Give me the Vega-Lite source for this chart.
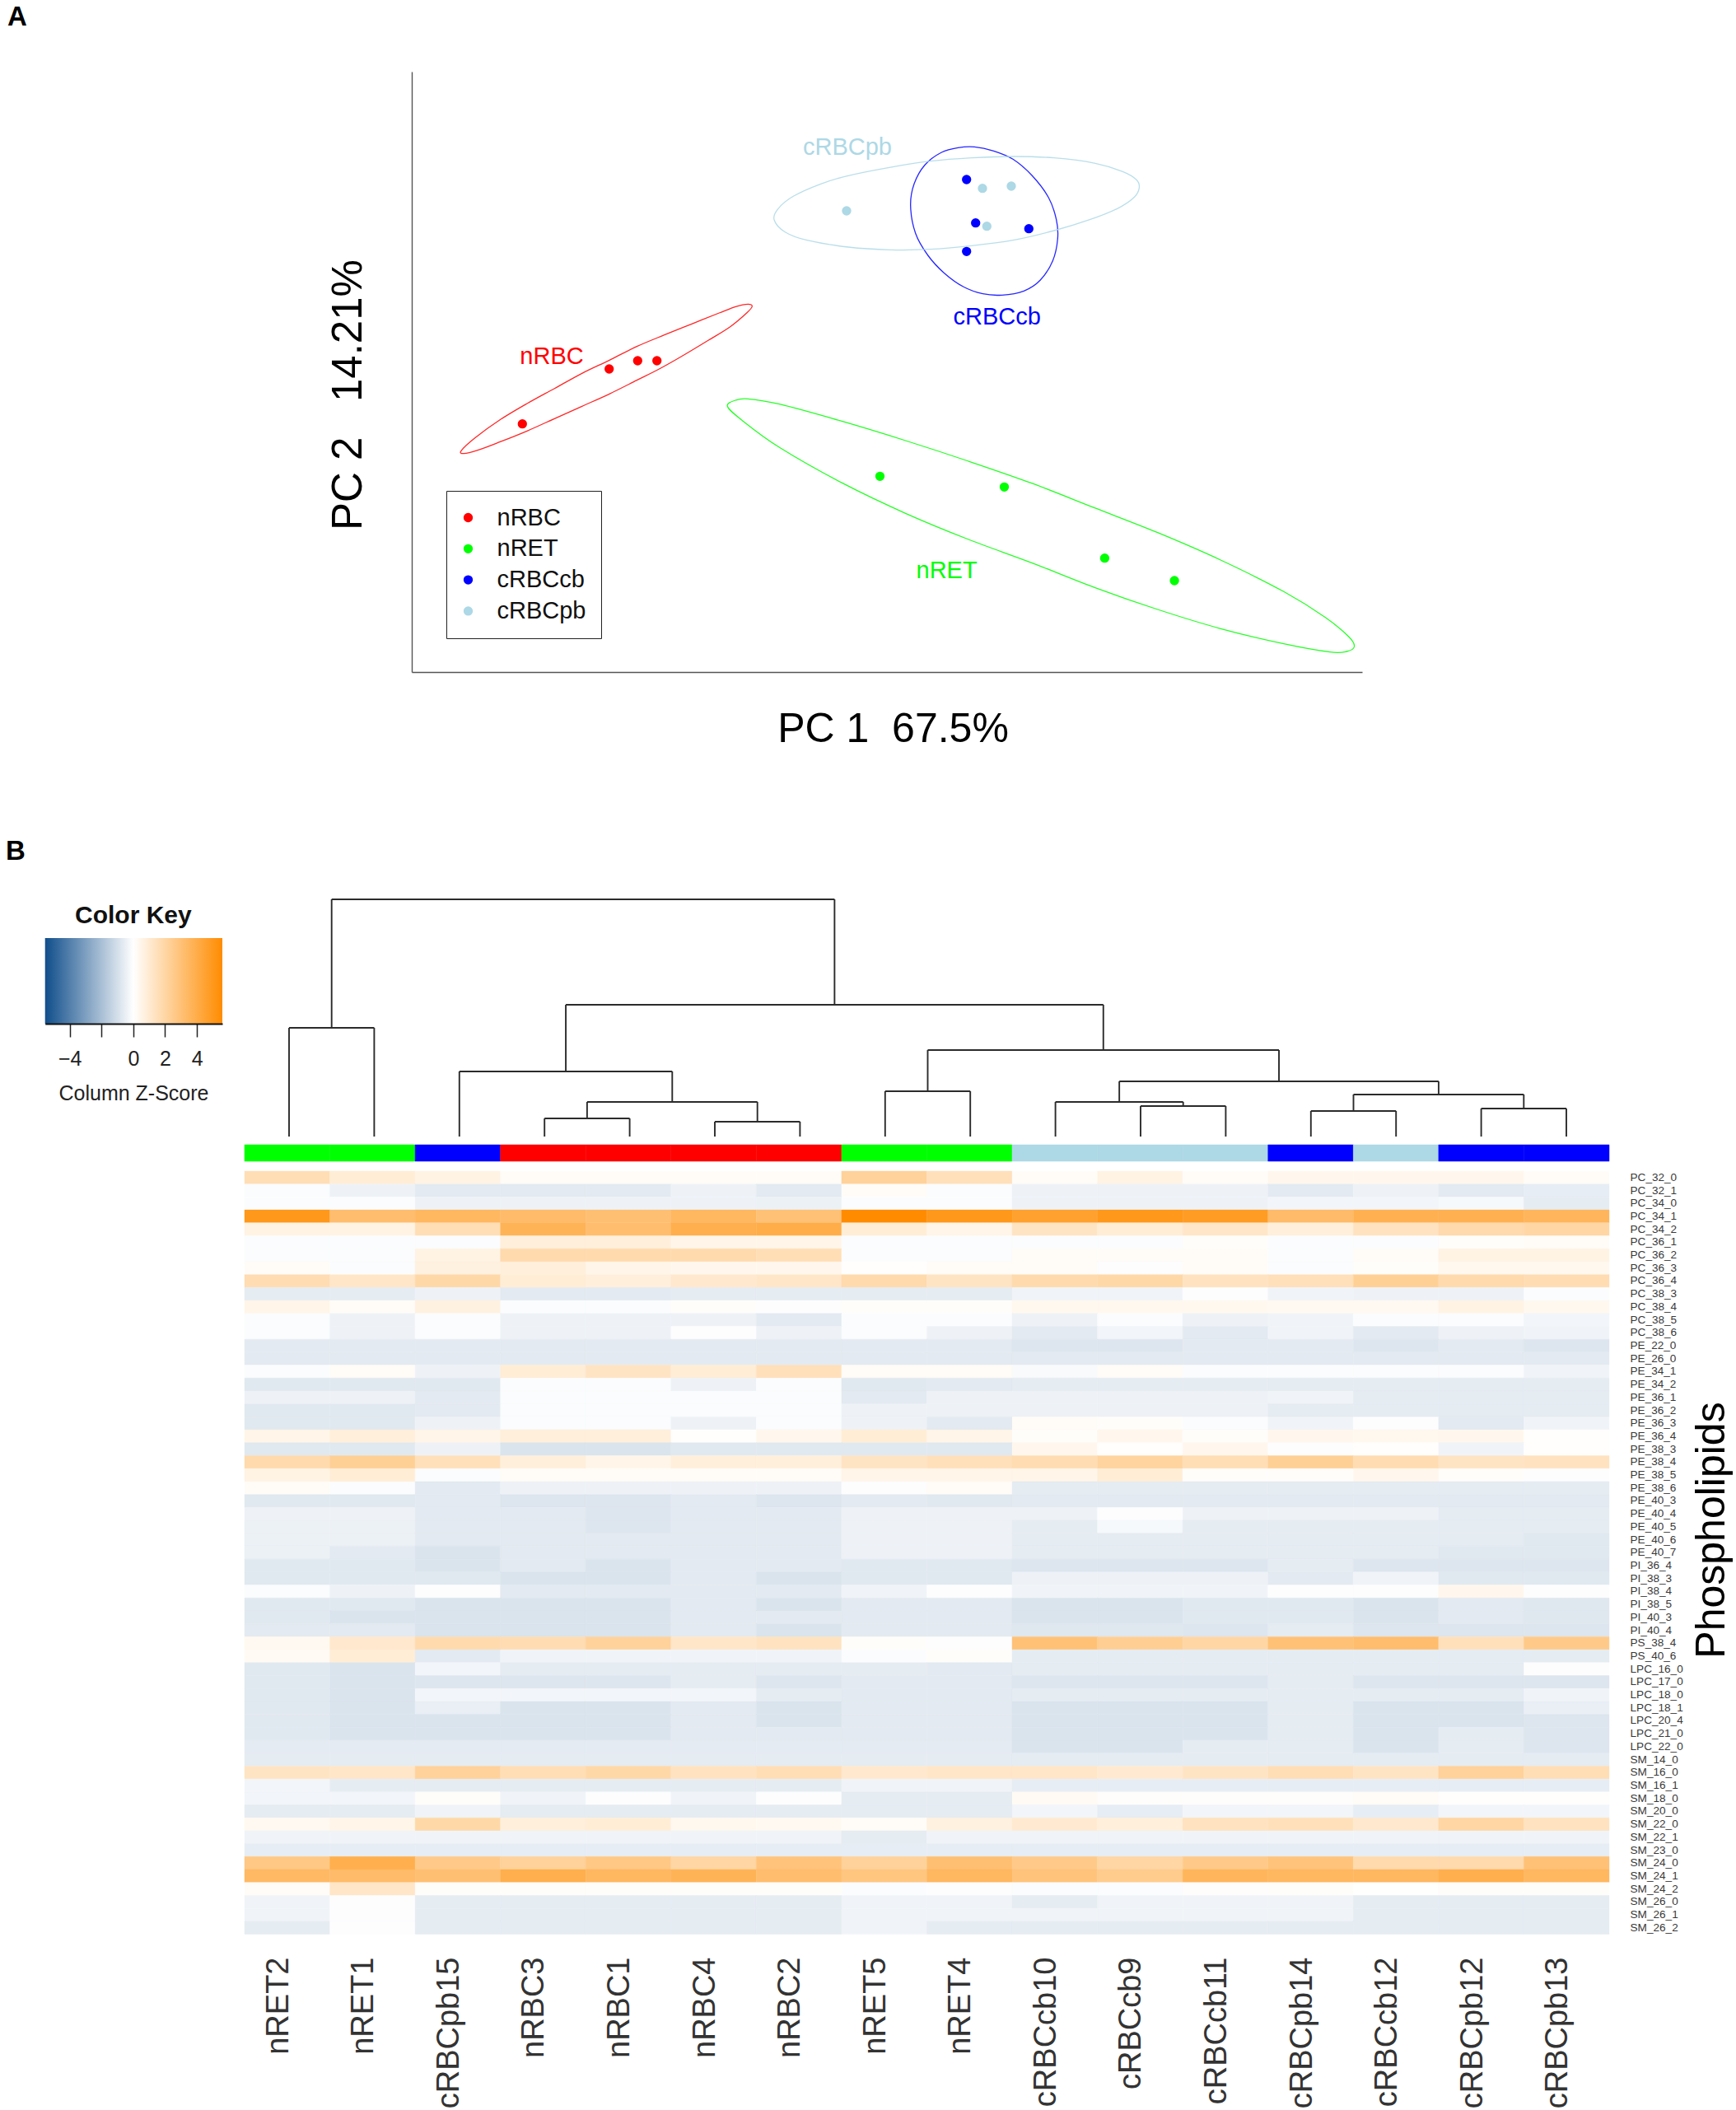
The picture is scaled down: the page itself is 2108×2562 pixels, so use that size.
{"$schema":"https://vega.github.io/schema/vega-lite/v6.json","width":2108,"height":2562,"autosize":"none","padding":0,"background":"white",
"config":{"font":"Liberation Sans","view":{"stroke":null},"axis":{"grid":false}},
"datasets":{
"ellipses":[
{"group":"nRBC","i":1,"pc1":6.0,"pc2":26.87},{"group":"nRBC","i":2,"pc1":7.67,"pc2":28.43},{"group":"nRBC","i":3,"pc1":10.67,"pc2":30.6},{"group":"nRBC","i":4,"pc1":14.0,"pc2":32.6},{"group":"nRBC","i":5,"pc1":17.33,"pc2":34.43},{"group":"nRBC","i":6,"pc1":20.67,"pc2":36.27},{"group":"nRBC","i":7,"pc1":24.0,"pc2":37.87},{"group":"nRBC","i":8,"pc1":27.33,"pc2":39.53},{"group":"nRBC","i":9,"pc1":30.67,"pc2":40.93},{"group":"nRBC","i":10,"pc1":34.0,"pc2":42.27},{"group":"nRBC","i":11,"pc1":37.33,"pc2":43.6},{"group":"nRBC","i":12,"pc1":39.33,"pc2":44.37},{"group":"nRBC","i":13,"pc1":40.83,"pc2":44.67},{"group":"nRBC","i":14,"pc1":41.33,"pc2":44.4},{"group":"nRBC","i":15,"pc1":40.67,"pc2":43.6},{"group":"nRBC","i":16,"pc1":38.67,"pc2":41.93},{"group":"nRBC","i":17,"pc1":36.0,"pc2":40.27},{"group":"nRBC","i":18,"pc1":32.67,"pc2":38.27},{"group":"nRBC","i":19,"pc1":30.0,"pc2":36.77},{"group":"nRBC","i":20,"pc1":27.33,"pc2":35.43},{"group":"nRBC","i":21,"pc1":24.0,"pc2":33.77},{"group":"nRBC","i":22,"pc1":20.67,"pc2":32.27},{"group":"nRBC","i":23,"pc1":17.33,"pc2":30.77},{"group":"nRBC","i":24,"pc1":14.0,"pc2":29.27},{"group":"nRBC","i":25,"pc1":10.67,"pc2":27.93},{"group":"nRBC","i":26,"pc1":8.0,"pc2":26.93},{"group":"nRBC","i":27,"pc1":6.33,"pc2":26.53},
{"group":"nRET","i":1,"pc1":38.33,"pc2":32.27},{"group":"nRET","i":2,"pc1":39.3,"pc2":33.0},{"group":"nRET","i":3,"pc1":40.83,"pc2":33.17},{"group":"nRET","i":4,"pc1":44.65,"pc2":32.53},{"group":"nRET","i":5,"pc1":52.31,"pc2":30.43},{"group":"nRET","i":6,"pc1":59.96,"pc2":28.1},{"group":"nRET","i":7,"pc1":67.61,"pc2":25.6},{"group":"nRET","i":8,"pc1":75.27,"pc2":22.93},{"group":"nRET","i":9,"pc1":82.92,"pc2":19.93},{"group":"nRET","i":10,"pc1":90.57,"pc2":16.93},{"group":"nRET","i":11,"pc1":98.22,"pc2":13.6},{"group":"nRET","i":12,"pc1":105.88,"pc2":9.77},{"group":"nRET","i":13,"pc1":110.98,"pc2":6.6},{"group":"nRET","i":14,"pc1":113.79,"pc2":4.27},{"group":"nRET","i":15,"pc1":114.45,"pc2":3.1},{"group":"nRET","i":16,"pc1":113.53,"pc2":2.5},{"group":"nRET","i":17,"pc1":111.49,"pc2":2.43},{"group":"nRET","i":18,"pc1":105.88,"pc2":3.43},{"group":"nRET","i":19,"pc1":98.22,"pc2":5.27},{"group":"nRET","i":20,"pc1":90.57,"pc2":7.6},{"group":"nRET","i":21,"pc1":82.92,"pc2":10.27},{"group":"nRET","i":22,"pc1":75.27,"pc2":13.27},{"group":"nRET","i":23,"pc1":67.61,"pc2":16.1},{"group":"nRET","i":24,"pc1":59.96,"pc2":19.27},{"group":"nRET","i":25,"pc1":52.31,"pc2":22.93},{"group":"nRET","i":26,"pc1":44.65,"pc2":27.27},{"group":"nRET","i":27,"pc1":40.06,"pc2":30.6},
{"group":"cRBCcb","i":1,"pc1":60.57,"pc2":56.6},{"group":"cRBCcb","i":2,"pc1":61.0,"pc2":59.27},{"group":"cRBCcb","i":3,"pc1":62.33,"pc2":61.6},{"group":"cRBCcb","i":4,"pc1":64.33,"pc2":63.1},{"group":"cRBCcb","i":5,"pc1":66.33,"pc2":63.67},{"group":"cRBCcb","i":6,"pc1":68.33,"pc2":63.77},{"group":"cRBCcb","i":7,"pc1":70.67,"pc2":63.27},{"group":"cRBCcb","i":8,"pc1":73.0,"pc2":62.27},{"group":"cRBCcb","i":9,"pc1":75.33,"pc2":60.27},{"group":"cRBCcb","i":10,"pc1":77.33,"pc2":57.6},{"group":"cRBCcb","i":11,"pc1":78.27,"pc2":54.93},{"group":"cRBCcb","i":12,"pc1":78.43,"pc2":52.6},{"group":"cRBCcb","i":13,"pc1":77.83,"pc2":49.93},{"group":"cRBCcb","i":14,"pc1":76.33,"pc2":47.6},{"group":"cRBCcb","i":15,"pc1":74.33,"pc2":46.27},{"group":"cRBCcb","i":16,"pc1":71.67,"pc2":45.77},{"group":"cRBCcb","i":17,"pc1":69.33,"pc2":45.93},{"group":"cRBCcb","i":18,"pc1":67.0,"pc2":46.77},{"group":"cRBCcb","i":19,"pc1":64.67,"pc2":48.43},{"group":"cRBCcb","i":20,"pc1":62.67,"pc2":50.6},{"group":"cRBCcb","i":21,"pc1":61.17,"pc2":53.27},
{"group":"cRBCpb","i":1,"pc1":44.0,"pc2":54.93},{"group":"cRBCpb","i":2,"pc1":44.5,"pc2":56.27},{"group":"cRBCpb","i":3,"pc1":46.33,"pc2":57.77},{"group":"cRBCpb","i":4,"pc1":49.67,"pc2":59.27},{"group":"cRBCpb","i":5,"pc1":53.0,"pc2":60.27},{"group":"cRBCpb","i":6,"pc1":58.0,"pc2":61.27},{"group":"cRBCpb","i":7,"pc1":63.0,"pc2":62.03},{"group":"cRBCpb","i":8,"pc1":68.0,"pc2":62.43},{"group":"cRBCpb","i":9,"pc1":73.0,"pc2":62.6},{"group":"cRBCpb","i":10,"pc1":78.0,"pc2":62.43},{"group":"cRBCpb","i":11,"pc1":83.0,"pc2":61.77},{"group":"cRBCpb","i":12,"pc1":86.33,"pc2":60.77},{"group":"cRBCpb","i":13,"pc1":88.0,"pc2":59.77},{"group":"cRBCpb","i":14,"pc1":88.33,"pc2":58.77},{"group":"cRBCpb","i":15,"pc1":87.67,"pc2":57.6},{"group":"cRBCpb","i":16,"pc1":85.67,"pc2":56.27},{"group":"cRBCpb","i":17,"pc1":82.33,"pc2":54.93},{"group":"cRBCpb","i":18,"pc1":78.0,"pc2":53.6},{"group":"cRBCpb","i":19,"pc1":73.0,"pc2":52.43},{"group":"cRBCpb","i":20,"pc1":68.0,"pc2":51.77},{"group":"cRBCpb","i":21,"pc1":63.0,"pc2":51.33},{"group":"cRBCpb","i":22,"pc1":58.0,"pc2":51.27},{"group":"cRBCpb","i":23,"pc1":53.0,"pc2":51.6},{"group":"cRBCpb","i":24,"pc1":48.0,"pc2":52.43},{"group":"cRBCpb","i":25,"pc1":45.33,"pc2":53.43}],
"points":[{"group":"nRBC","pc1":13.43,"pc2":30.13},{"group":"nRBC","pc1":23.97,"pc2":36.8},{"group":"nRBC","pc1":27.43,"pc2":37.8},{"group":"nRBC","pc1":29.77,"pc2":37.8},{"group":"nRET","pc1":56.85,"pc2":23.77},{"group":"nRET","pc1":71.95,"pc2":22.47},{"group":"nRET","pc1":84.14,"pc2":13.83},{"group":"nRET","pc1":92.61,"pc2":11.1},{"group":"cRBCpb","pc1":52.8,"pc2":56.0},{"group":"cRBCpb","pc1":69.3,"pc2":58.73},{"group":"cRBCpb","pc1":72.8,"pc2":59.0},{"group":"cRBCpb","pc1":69.83,"pc2":54.13},{"group":"cRBCcb","pc1":67.37,"pc2":59.8},{"group":"cRBCcb","pc1":68.47,"pc2":54.53},{"group":"cRBCcb","pc1":74.93,"pc2":53.83},{"group":"cRBCcb","pc1":67.37,"pc2":51.07}],
"groupLabels":[{"group":"nRBC","pc1":17.0,"pc2":38.27},{"group":"nRET","pc1":64.96,"pc2":12.33},{"group":"cRBCcb","pc1":71.07,"pc2":43.1},{"group":"cRBCpb","pc1":52.9,"pc2":63.67}],
"dendro":[{"p":1,"p2":2,"h":13.2,"h2":13.2},{"p":1,"p2":1,"h":0,"h2":13.2},{"p":2,"p2":2,"h":0,"h2":13.2},{"p":4,"p2":5,"h":2.2,"h2":2.2},{"p":4,"p2":4,"h":0,"h2":2.2},{"p":5,"p2":5,"h":0,"h2":2.2},{"p":6,"p2":7,"h":1.8,"h2":1.8},{"p":6,"p2":6,"h":0,"h2":1.8},{"p":7,"p2":7,"h":0,"h2":1.8},{"p":4.5,"p2":6.5,"h":4.2,"h2":4.2},{"p":4.5,"p2":4.5,"h":2.2,"h2":4.2},{"p":6.5,"p2":6.5,"h":1.8,"h2":4.2},{"p":3,"p2":5.5,"h":7.9,"h2":7.9},{"p":3,"p2":3,"h":0,"h2":7.9},{"p":5.5,"p2":5.5,"h":4.2,"h2":7.9},{"p":8,"p2":9,"h":5.5,"h2":5.5},{"p":8,"p2":8,"h":0,"h2":5.5},{"p":9,"p2":9,"h":0,"h2":5.5},{"p":11,"p2":12,"h":3.7,"h2":3.7},{"p":11,"p2":11,"h":0,"h2":3.7},{"p":12,"p2":12,"h":0,"h2":3.7},{"p":10,"p2":11.5,"h":4.2,"h2":4.2},{"p":10,"p2":10,"h":0,"h2":4.2},{"p":11.5,"p2":11.5,"h":3.7,"h2":4.2},{"p":13,"p2":14,"h":3.1,"h2":3.1},{"p":13,"p2":13,"h":0,"h2":3.1},{"p":14,"p2":14,"h":0,"h2":3.1},{"p":15,"p2":16,"h":3.4,"h2":3.4},{"p":15,"p2":15,"h":0,"h2":3.4},{"p":16,"p2":16,"h":0,"h2":3.4},{"p":13.5,"p2":15.5,"h":5.1,"h2":5.1},{"p":13.5,"p2":13.5,"h":3.1,"h2":5.1},{"p":15.5,"p2":15.5,"h":3.4,"h2":5.1},{"p":10.75,"p2":14.5,"h":6.7,"h2":6.7},{"p":10.75,"p2":10.75,"h":4.2,"h2":6.7},{"p":14.5,"p2":14.5,"h":5.1,"h2":6.7},{"p":8.5,"p2":12.625,"h":10.5,"h2":10.5},{"p":8.5,"p2":8.5,"h":5.5,"h2":10.5},{"p":12.625,"p2":12.625,"h":6.7,"h2":10.5},{"p":4.25,"p2":10.5625,"h":16,"h2":16},{"p":4.25,"p2":4.25,"h":7.9,"h2":16},{"p":10.5625,"p2":10.5625,"h":10.5,"h2":16},{"p":1.5,"p2":7.406,"h":28.8,"h2":28.8},{"p":1.5,"p2":1.5,"h":13.2,"h2":28.8},{"p":7.406,"p2":7.406,"h":16,"h2":28.8}],
"strip":[{"sample":"nRET2","group":"nRET","track":"side"},{"sample":"nRET1","group":"nRET","track":"side"},{"sample":"cRBCpb15","group":"cRBCcb","track":"side"},{"sample":"nRBC3","group":"nRBC","track":"side"},{"sample":"nRBC1","group":"nRBC","track":"side"},{"sample":"nRBC4","group":"nRBC","track":"side"},{"sample":"nRBC2","group":"nRBC","track":"side"},{"sample":"nRET5","group":"nRET","track":"side"},{"sample":"nRET4","group":"nRET","track":"side"},{"sample":"cRBCcb10","group":"cRBCpb","track":"side"},{"sample":"cRBCcb9","group":"cRBCpb","track":"side"},{"sample":"cRBCcb11","group":"cRBCpb","track":"side"},{"sample":"cRBCpb14","group":"cRBCcb","track":"side"},{"sample":"cRBCcb12","group":"cRBCpb","track":"side"},{"sample":"cRBCpb12","group":"cRBCcb","track":"side"},{"sample":"cRBCpb13","group":"cRBCcb","track":"side"}],
"cells":[
{"sample":"nRET2","lipid":"PC_32_0","z":1.6},{"sample":"nRET1","lipid":"PC_32_0","z":0.9},{"sample":"cRBCpb15","lipid":"PC_32_0","z":0.6},{"sample":"nRBC3","lipid":"PC_32_0","z":0.15},{"sample":"nRBC1","lipid":"PC_32_0","z":0.15},{"sample":"nRBC4","lipid":"PC_32_0","z":0.15},{"sample":"nRBC2","lipid":"PC_32_0","z":0.15},{"sample":"nRET5","lipid":"PC_32_0","z":2.2},{"sample":"nRET4","lipid":"PC_32_0","z":1.5},{"sample":"cRBCcb10","lipid":"PC_32_0","z":0.15},{"sample":"cRBCcb9","lipid":"PC_32_0","z":0.6},{"sample":"cRBCcb11","lipid":"PC_32_0","z":0.15},{"sample":"cRBCpb14","lipid":"PC_32_0","z":0.4},{"sample":"cRBCcb12","lipid":"PC_32_0","z":0.4},{"sample":"cRBCpb12","lipid":"PC_32_0","z":0.4},{"sample":"cRBCpb13","lipid":"PC_32_0","z":0.15},
{"sample":"nRET2","lipid":"PC_32_1","z":-0.1},{"sample":"nRET1","lipid":"PC_32_1","z":-0.4},{"sample":"cRBCpb15","lipid":"PC_32_1","z":-0.65},{"sample":"nRBC3","lipid":"PC_32_1","z":-0.65},{"sample":"nRBC1","lipid":"PC_32_1","z":-0.65},{"sample":"nRBC4","lipid":"PC_32_1","z":-0.4},{"sample":"nRBC2","lipid":"PC_32_1","z":-0.65},{"sample":"nRET5","lipid":"PC_32_1","z":0.15},{"sample":"nRET4","lipid":"PC_32_1","z":-0.1},{"sample":"cRBCcb10","lipid":"PC_32_1","z":-0.4},{"sample":"cRBCcb9","lipid":"PC_32_1","z":-0.4},{"sample":"cRBCcb11","lipid":"PC_32_1","z":-0.4},{"sample":"cRBCpb14","lipid":"PC_32_1","z":-0.65},{"sample":"cRBCcb12","lipid":"PC_32_1","z":-0.4},{"sample":"cRBCpb12","lipid":"PC_32_1","z":-0.65},{"sample":"cRBCpb13","lipid":"PC_32_1","z":-0.55},
{"sample":"nRET2","lipid":"PC_34_0","z":-0.1},{"sample":"nRET1","lipid":"PC_34_0","z":-0.1},{"sample":"cRBCpb15","lipid":"PC_34_0","z":-0.4},{"sample":"nRBC3","lipid":"PC_34_0","z":-0.4},{"sample":"nRBC1","lipid":"PC_34_0","z":-0.4},{"sample":"nRBC4","lipid":"PC_34_0","z":-0.4},{"sample":"nRBC2","lipid":"PC_34_0","z":-0.45},{"sample":"nRET5","lipid":"PC_34_0","z":-0.1},{"sample":"nRET4","lipid":"PC_34_0","z":-0.1},{"sample":"cRBCcb10","lipid":"PC_34_0","z":-0.4},{"sample":"cRBCcb9","lipid":"PC_34_0","z":-0.4},{"sample":"cRBCcb11","lipid":"PC_34_0","z":-0.4},{"sample":"cRBCpb14","lipid":"PC_34_0","z":-0.3},{"sample":"cRBCcb12","lipid":"PC_34_0","z":-0.3},{"sample":"cRBCpb12","lipid":"PC_34_0","z":-0.2},{"sample":"cRBCpb13","lipid":"PC_34_0","z":-0.6},
{"sample":"nRET2","lipid":"PC_34_1","z":5.0},{"sample":"nRET1","lipid":"PC_34_1","z":3.2},{"sample":"cRBCpb15","lipid":"PC_34_1","z":3.5},{"sample":"nRBC3","lipid":"PC_34_1","z":3.3},{"sample":"nRBC1","lipid":"PC_34_1","z":3.1},{"sample":"nRBC4","lipid":"PC_34_1","z":3.5},{"sample":"nRBC2","lipid":"PC_34_1","z":3.0},{"sample":"nRET5","lipid":"PC_34_1","z":5.6},{"sample":"nRET4","lipid":"PC_34_1","z":5.0},{"sample":"cRBCcb10","lipid":"PC_34_1","z":4.6},{"sample":"cRBCcb9","lipid":"PC_34_1","z":5.0},{"sample":"cRBCcb11","lipid":"PC_34_1","z":4.8},{"sample":"cRBCpb14","lipid":"PC_34_1","z":3.3},{"sample":"cRBCcb12","lipid":"PC_34_1","z":3.8},{"sample":"cRBCpb12","lipid":"PC_34_1","z":3.8},{"sample":"cRBCpb13","lipid":"PC_34_1","z":3.6},
{"sample":"nRET2","lipid":"PC_34_2","z":0.6},{"sample":"nRET1","lipid":"PC_34_2","z":0.6},{"sample":"cRBCpb15","lipid":"PC_34_2","z":1.6},{"sample":"nRBC3","lipid":"PC_34_2","z":3.7},{"sample":"nRBC1","lipid":"PC_34_2","z":3.2},{"sample":"nRBC4","lipid":"PC_34_2","z":3.9},{"sample":"nRBC2","lipid":"PC_34_2","z":4.0},{"sample":"nRET5","lipid":"PC_34_2","z":0.9},{"sample":"nRET4","lipid":"PC_34_2","z":0.5},{"sample":"cRBCcb10","lipid":"PC_34_2","z":1.3},{"sample":"cRBCcb9","lipid":"PC_34_2","z":0.9},{"sample":"cRBCcb11","lipid":"PC_34_2","z":1.2},{"sample":"cRBCpb14","lipid":"PC_34_2","z":0.8},{"sample":"cRBCcb12","lipid":"PC_34_2","z":1.4},{"sample":"cRBCpb12","lipid":"PC_34_2","z":1.8},{"sample":"cRBCpb13","lipid":"PC_34_2","z":2.0},
{"sample":"nRET2","lipid":"PC_36_1","z":-0.1},{"sample":"nRET1","lipid":"PC_36_1","z":-0.1},{"sample":"cRBCpb15","lipid":"PC_36_1","z":-0.1},{"sample":"nRBC3","lipid":"PC_36_1","z":0.8},{"sample":"nRBC1","lipid":"PC_36_1","z":0.8},{"sample":"nRBC4","lipid":"PC_36_1","z":0.5},{"sample":"nRBC2","lipid":"PC_36_1","z":0.5},{"sample":"nRET5","lipid":"PC_36_1","z":-0.1},{"sample":"nRET4","lipid":"PC_36_1","z":-0.1},{"sample":"cRBCcb10","lipid":"PC_36_1","z":-0.1},{"sample":"cRBCcb9","lipid":"PC_36_1","z":-0.1},{"sample":"cRBCcb11","lipid":"PC_36_1","z":0.1},{"sample":"cRBCpb14","lipid":"PC_36_1","z":-0.1},{"sample":"cRBCcb12","lipid":"PC_36_1","z":-0.1},{"sample":"cRBCpb12","lipid":"PC_36_1","z":0.1},{"sample":"cRBCpb13","lipid":"PC_36_1","z":0.15},
{"sample":"nRET2","lipid":"PC_36_2","z":-0.1},{"sample":"nRET1","lipid":"PC_36_2","z":-0.1},{"sample":"cRBCpb15","lipid":"PC_36_2","z":0.6},{"sample":"nRBC3","lipid":"PC_36_2","z":1.8},{"sample":"nRBC1","lipid":"PC_36_2","z":1.8},{"sample":"nRBC4","lipid":"PC_36_2","z":1.8},{"sample":"nRBC2","lipid":"PC_36_2","z":1.6},{"sample":"nRET5","lipid":"PC_36_2","z":-0.1},{"sample":"nRET4","lipid":"PC_36_2","z":-0.1},{"sample":"cRBCcb10","lipid":"PC_36_2","z":0.15},{"sample":"cRBCcb9","lipid":"PC_36_2","z":0.15},{"sample":"cRBCcb11","lipid":"PC_36_2","z":0.15},{"sample":"cRBCpb14","lipid":"PC_36_2","z":-0.1},{"sample":"cRBCcb12","lipid":"PC_36_2","z":0.15},{"sample":"cRBCpb12","lipid":"PC_36_2","z":0.6},{"sample":"cRBCpb13","lipid":"PC_36_2","z":0.6},
{"sample":"nRET2","lipid":"PC_36_3","z":0.15},{"sample":"nRET1","lipid":"PC_36_3","z":-0.1},{"sample":"cRBCpb15","lipid":"PC_36_3","z":0.7},{"sample":"nRBC3","lipid":"PC_36_3","z":0.8},{"sample":"nRBC1","lipid":"PC_36_3","z":0.5},{"sample":"nRBC4","lipid":"PC_36_3","z":0.4},{"sample":"nRBC2","lipid":"PC_36_3","z":0.4},{"sample":"nRET5","lipid":"PC_36_3","z":0.05},{"sample":"nRET4","lipid":"PC_36_3","z":0.15},{"sample":"cRBCcb10","lipid":"PC_36_3","z":0.15},{"sample":"cRBCcb9","lipid":"PC_36_3","z":-0.05},{"sample":"cRBCcb11","lipid":"PC_36_3","z":0.15},{"sample":"cRBCpb14","lipid":"PC_36_3","z":-0.1},{"sample":"cRBCcb12","lipid":"PC_36_3","z":0.1},{"sample":"cRBCpb12","lipid":"PC_36_3","z":0.35},{"sample":"cRBCpb13","lipid":"PC_36_3","z":0.35},
{"sample":"nRET2","lipid":"PC_36_4","z":1.7},{"sample":"nRET1","lipid":"PC_36_4","z":1.2},{"sample":"cRBCpb15","lipid":"PC_36_4","z":1.9},{"sample":"nRBC3","lipid":"PC_36_4","z":0.9},{"sample":"nRBC1","lipid":"PC_36_4","z":0.8},{"sample":"nRBC4","lipid":"PC_36_4","z":1.1},{"sample":"nRBC2","lipid":"PC_36_4","z":1.2},{"sample":"nRET5","lipid":"PC_36_4","z":1.8},{"sample":"nRET4","lipid":"PC_36_4","z":1.3},{"sample":"cRBCcb10","lipid":"PC_36_4","z":1.8},{"sample":"cRBCcb9","lipid":"PC_36_4","z":1.9},{"sample":"cRBCcb11","lipid":"PC_36_4","z":1.4},{"sample":"cRBCpb14","lipid":"PC_36_4","z":1.5},{"sample":"cRBCcb12","lipid":"PC_36_4","z":2.3},{"sample":"cRBCpb12","lipid":"PC_36_4","z":1.8},{"sample":"cRBCpb13","lipid":"PC_36_4","z":1.7},
{"sample":"nRET2","lipid":"PC_38_3","z":-0.6},{"sample":"nRET1","lipid":"PC_38_3","z":-0.6},{"sample":"cRBCpb15","lipid":"PC_38_3","z":-0.4},{"sample":"nRBC3","lipid":"PC_38_3","z":-0.65},{"sample":"nRBC1","lipid":"PC_38_3","z":-0.65},{"sample":"nRBC4","lipid":"PC_38_3","z":-0.6},{"sample":"nRBC2","lipid":"PC_38_3","z":-0.6},{"sample":"nRET5","lipid":"PC_38_3","z":-0.6},{"sample":"nRET4","lipid":"PC_38_3","z":-0.6},{"sample":"cRBCcb10","lipid":"PC_38_3","z":-0.35},{"sample":"cRBCcb9","lipid":"PC_38_3","z":-0.35},{"sample":"cRBCcb11","lipid":"PC_38_3","z":-0.05},{"sample":"cRBCpb14","lipid":"PC_38_3","z":-0.35},{"sample":"cRBCcb12","lipid":"PC_38_3","z":-0.4},{"sample":"cRBCpb12","lipid":"PC_38_3","z":-0.4},{"sample":"cRBCpb13","lipid":"PC_38_3","z":-0.1},
{"sample":"nRET2","lipid":"PC_38_4","z":0.5},{"sample":"nRET1","lipid":"PC_38_4","z":0.15},{"sample":"cRBCpb15","lipid":"PC_38_4","z":0.7},{"sample":"nRBC3","lipid":"PC_38_4","z":-0.1},{"sample":"nRBC1","lipid":"PC_38_4","z":-0.1},{"sample":"nRBC4","lipid":"PC_38_4","z":0.1},{"sample":"nRBC2","lipid":"PC_38_4","z":-0.05},{"sample":"nRET5","lipid":"PC_38_4","z":0.12},{"sample":"nRET4","lipid":"PC_38_4","z":0.12},{"sample":"cRBCcb10","lipid":"PC_38_4","z":0.35},{"sample":"cRBCcb9","lipid":"PC_38_4","z":0.35},{"sample":"cRBCcb11","lipid":"PC_38_4","z":0.35},{"sample":"cRBCpb14","lipid":"PC_38_4","z":0.3},{"sample":"cRBCcb12","lipid":"PC_38_4","z":0.3},{"sample":"cRBCpb12","lipid":"PC_38_4","z":0.6},{"sample":"cRBCpb13","lipid":"PC_38_4","z":0.35},
{"sample":"nRET2","lipid":"PC_38_5","z":-0.1},{"sample":"nRET1","lipid":"PC_38_5","z":-0.4},{"sample":"cRBCpb15","lipid":"PC_38_5","z":-0.1},{"sample":"nRBC3","lipid":"PC_38_5","z":-0.4},{"sample":"nRBC1","lipid":"PC_38_5","z":-0.4},{"sample":"nRBC4","lipid":"PC_38_5","z":-0.4},{"sample":"nRBC2","lipid":"PC_38_5","z":-0.65},{"sample":"nRET5","lipid":"PC_38_5","z":-0.1},{"sample":"nRET4","lipid":"PC_38_5","z":-0.1},{"sample":"cRBCcb10","lipid":"PC_38_5","z":-0.4},{"sample":"cRBCcb9","lipid":"PC_38_5","z":-0.1},{"sample":"cRBCcb11","lipid":"PC_38_5","z":-0.4},{"sample":"cRBCpb14","lipid":"PC_38_5","z":-0.35},{"sample":"cRBCcb12","lipid":"PC_38_5","z":-0.1},{"sample":"cRBCpb12","lipid":"PC_38_5","z":-0.1},{"sample":"cRBCpb13","lipid":"PC_38_5","z":-0.3},
{"sample":"nRET2","lipid":"PC_38_6","z":-0.1},{"sample":"nRET1","lipid":"PC_38_6","z":-0.4},{"sample":"cRBCpb15","lipid":"PC_38_6","z":-0.1},{"sample":"nRBC3","lipid":"PC_38_6","z":-0.4},{"sample":"nRBC1","lipid":"PC_38_6","z":-0.4},{"sample":"nRBC4","lipid":"PC_38_6","z":-0.05},{"sample":"nRBC2","lipid":"PC_38_6","z":-0.4},{"sample":"nRET5","lipid":"PC_38_6","z":-0.1},{"sample":"nRET4","lipid":"PC_38_6","z":-0.4},{"sample":"cRBCcb10","lipid":"PC_38_6","z":-0.65},{"sample":"cRBCcb9","lipid":"PC_38_6","z":-0.3},{"sample":"cRBCcb11","lipid":"PC_38_6","z":-0.65},{"sample":"cRBCpb14","lipid":"PC_38_6","z":-0.35},{"sample":"cRBCcb12","lipid":"PC_38_6","z":-0.65},{"sample":"cRBCpb12","lipid":"PC_38_6","z":-0.4},{"sample":"cRBCpb13","lipid":"PC_38_6","z":-0.35},
{"sample":"nRET2","lipid":"PE_22_0","z":-0.65},{"sample":"nRET1","lipid":"PE_22_0","z":-0.65},{"sample":"cRBCpb15","lipid":"PE_22_0","z":-0.65},{"sample":"nRBC3","lipid":"PE_22_0","z":-0.65},{"sample":"nRBC1","lipid":"PE_22_0","z":-0.65},{"sample":"nRBC4","lipid":"PE_22_0","z":-0.65},{"sample":"nRBC2","lipid":"PE_22_0","z":-0.65},{"sample":"nRET5","lipid":"PE_22_0","z":-0.65},{"sample":"nRET4","lipid":"PE_22_0","z":-0.65},{"sample":"cRBCcb10","lipid":"PE_22_0","z":-0.8},{"sample":"cRBCcb9","lipid":"PE_22_0","z":-0.8},{"sample":"cRBCcb11","lipid":"PE_22_0","z":-0.65},{"sample":"cRBCpb14","lipid":"PE_22_0","z":-0.65},{"sample":"cRBCcb12","lipid":"PE_22_0","z":-0.8},{"sample":"cRBCpb12","lipid":"PE_22_0","z":-0.65},{"sample":"cRBCpb13","lipid":"PE_22_0","z":-0.8},
{"sample":"nRET2","lipid":"PE_26_0","z":-0.65},{"sample":"nRET1","lipid":"PE_26_0","z":-0.65},{"sample":"cRBCpb15","lipid":"PE_26_0","z":-0.65},{"sample":"nRBC3","lipid":"PE_26_0","z":-0.65},{"sample":"nRBC1","lipid":"PE_26_0","z":-0.65},{"sample":"nRBC4","lipid":"PE_26_0","z":-0.65},{"sample":"nRBC2","lipid":"PE_26_0","z":-0.65},{"sample":"nRET5","lipid":"PE_26_0","z":-0.65},{"sample":"nRET4","lipid":"PE_26_0","z":-0.65},{"sample":"cRBCcb10","lipid":"PE_26_0","z":-0.65},{"sample":"cRBCcb9","lipid":"PE_26_0","z":-0.65},{"sample":"cRBCcb11","lipid":"PE_26_0","z":-0.65},{"sample":"cRBCpb14","lipid":"PE_26_0","z":-0.65},{"sample":"cRBCcb12","lipid":"PE_26_0","z":-0.65},{"sample":"cRBCpb12","lipid":"PE_26_0","z":-0.65},{"sample":"cRBCpb13","lipid":"PE_26_0","z":-0.65},
{"sample":"nRET2","lipid":"PE_34_1","z":-0.1},{"sample":"nRET1","lipid":"PE_34_1","z":0.15},{"sample":"cRBCpb15","lipid":"PE_34_1","z":-0.4},{"sample":"nRBC3","lipid":"PE_34_1","z":0.9},{"sample":"nRBC1","lipid":"PE_34_1","z":1.3},{"sample":"nRBC4","lipid":"PE_34_1","z":0.9},{"sample":"nRBC2","lipid":"PE_34_1","z":1.5},{"sample":"nRET5","lipid":"PE_34_1","z":0.15},{"sample":"nRET4","lipid":"PE_34_1","z":0.15},{"sample":"cRBCcb10","lipid":"PE_34_1","z":-0.15},{"sample":"cRBCcb9","lipid":"PE_34_1","z":0.15},{"sample":"cRBCcb11","lipid":"PE_34_1","z":-0.1},{"sample":"cRBCpb14","lipid":"PE_34_1","z":-0.1},{"sample":"cRBCcb12","lipid":"PE_34_1","z":-0.1},{"sample":"cRBCpb12","lipid":"PE_34_1","z":-0.1},{"sample":"cRBCpb13","lipid":"PE_34_1","z":-0.35},
{"sample":"nRET2","lipid":"PE_34_2","z":-0.7},{"sample":"nRET1","lipid":"PE_34_2","z":-0.7},{"sample":"cRBCpb15","lipid":"PE_34_2","z":-0.7},{"sample":"nRBC3","lipid":"PE_34_2","z":-0.1},{"sample":"nRBC1","lipid":"PE_34_2","z":-0.1},{"sample":"nRBC4","lipid":"PE_34_2","z":-0.4},{"sample":"nRBC2","lipid":"PE_34_2","z":-0.1},{"sample":"nRET5","lipid":"PE_34_2","z":-0.7},{"sample":"nRET4","lipid":"PE_34_2","z":-0.65},{"sample":"cRBCcb10","lipid":"PE_34_2","z":-0.6},{"sample":"cRBCcb9","lipid":"PE_34_2","z":-0.6},{"sample":"cRBCcb11","lipid":"PE_34_2","z":-0.6},{"sample":"cRBCpb14","lipid":"PE_34_2","z":-0.6},{"sample":"cRBCcb12","lipid":"PE_34_2","z":-0.6},{"sample":"cRBCpb12","lipid":"PE_34_2","z":-0.6},{"sample":"cRBCpb13","lipid":"PE_34_2","z":-0.6},
{"sample":"nRET2","lipid":"PE_36_1","z":-0.4},{"sample":"nRET1","lipid":"PE_36_1","z":-0.4},{"sample":"cRBCpb15","lipid":"PE_36_1","z":-0.65},{"sample":"nRBC3","lipid":"PE_36_1","z":-0.1},{"sample":"nRBC1","lipid":"PE_36_1","z":-0.1},{"sample":"nRBC4","lipid":"PE_36_1","z":-0.1},{"sample":"nRBC2","lipid":"PE_36_1","z":-0.1},{"sample":"nRET5","lipid":"PE_36_1","z":-0.65},{"sample":"nRET4","lipid":"PE_36_1","z":-0.4},{"sample":"cRBCcb10","lipid":"PE_36_1","z":-0.4},{"sample":"cRBCcb9","lipid":"PE_36_1","z":-0.4},{"sample":"cRBCcb11","lipid":"PE_36_1","z":-0.4},{"sample":"cRBCpb14","lipid":"PE_36_1","z":-0.35},{"sample":"cRBCcb12","lipid":"PE_36_1","z":-0.6},{"sample":"cRBCpb12","lipid":"PE_36_1","z":-0.6},{"sample":"cRBCpb13","lipid":"PE_36_1","z":-0.6},
{"sample":"nRET2","lipid":"PE_36_2","z":-0.7},{"sample":"nRET1","lipid":"PE_36_2","z":-0.7},{"sample":"cRBCpb15","lipid":"PE_36_2","z":-0.65},{"sample":"nRBC3","lipid":"PE_36_2","z":-0.1},{"sample":"nRBC1","lipid":"PE_36_2","z":-0.1},{"sample":"nRBC4","lipid":"PE_36_2","z":-0.1},{"sample":"nRBC2","lipid":"PE_36_2","z":-0.1},{"sample":"nRET5","lipid":"PE_36_2","z":-0.4},{"sample":"nRET4","lipid":"PE_36_2","z":-0.4},{"sample":"cRBCcb10","lipid":"PE_36_2","z":-0.4},{"sample":"cRBCcb9","lipid":"PE_36_2","z":-0.4},{"sample":"cRBCcb11","lipid":"PE_36_2","z":-0.4},{"sample":"cRBCpb14","lipid":"PE_36_2","z":-0.6},{"sample":"cRBCcb12","lipid":"PE_36_2","z":-0.6},{"sample":"cRBCpb12","lipid":"PE_36_2","z":-0.6},{"sample":"cRBCpb13","lipid":"PE_36_2","z":-0.6},
{"sample":"nRET2","lipid":"PE_36_3","z":-0.7},{"sample":"nRET1","lipid":"PE_36_3","z":-0.7},{"sample":"cRBCpb15","lipid":"PE_36_3","z":-0.4},{"sample":"nRBC3","lipid":"PE_36_3","z":-0.1},{"sample":"nRBC1","lipid":"PE_36_3","z":-0.1},{"sample":"nRBC4","lipid":"PE_36_3","z":-0.4},{"sample":"nRBC2","lipid":"PE_36_3","z":-0.1},{"sample":"nRET5","lipid":"PE_36_3","z":-0.4},{"sample":"nRET4","lipid":"PE_36_3","z":-0.65},{"sample":"cRBCcb10","lipid":"PE_36_3","z":0.15},{"sample":"cRBCcb9","lipid":"PE_36_3","z":0.12},{"sample":"cRBCcb11","lipid":"PE_36_3","z":-0.1},{"sample":"cRBCpb14","lipid":"PE_36_3","z":-0.35},{"sample":"cRBCcb12","lipid":"PE_36_3","z":-0.05},{"sample":"cRBCpb12","lipid":"PE_36_3","z":-0.65},{"sample":"cRBCpb13","lipid":"PE_36_3","z":-0.35},
{"sample":"nRET2","lipid":"PE_36_4","z":0.5},{"sample":"nRET1","lipid":"PE_36_4","z":0.8},{"sample":"cRBCpb15","lipid":"PE_36_4","z":0.5},{"sample":"nRBC3","lipid":"PE_36_4","z":0.8},{"sample":"nRBC1","lipid":"PE_36_4","z":0.8},{"sample":"nRBC4","lipid":"PE_36_4","z":0.05},{"sample":"nRBC2","lipid":"PE_36_4","z":0.4},{"sample":"nRET5","lipid":"PE_36_4","z":0.9},{"sample":"nRET4","lipid":"PE_36_4","z":0.5},{"sample":"cRBCcb10","lipid":"PE_36_4","z":0.1},{"sample":"cRBCcb9","lipid":"PE_36_4","z":0.4},{"sample":"cRBCcb11","lipid":"PE_36_4","z":0.1},{"sample":"cRBCpb14","lipid":"PE_36_4","z":0.4},{"sample":"cRBCcb12","lipid":"PE_36_4","z":0.35},{"sample":"cRBCpb12","lipid":"PE_36_4","z":0.4},{"sample":"cRBCpb13","lipid":"PE_36_4","z":0.05},
{"sample":"nRET2","lipid":"PE_38_3","z":-0.7},{"sample":"nRET1","lipid":"PE_38_3","z":-0.7},{"sample":"cRBCpb15","lipid":"PE_38_3","z":-0.4},{"sample":"nRBC3","lipid":"PE_38_3","z":-0.85},{"sample":"nRBC1","lipid":"PE_38_3","z":-0.85},{"sample":"nRBC4","lipid":"PE_38_3","z":-0.7},{"sample":"nRBC2","lipid":"PE_38_3","z":-0.7},{"sample":"nRET5","lipid":"PE_38_3","z":-0.7},{"sample":"nRET4","lipid":"PE_38_3","z":-0.7},{"sample":"cRBCcb10","lipid":"PE_38_3","z":0.4},{"sample":"cRBCcb9","lipid":"PE_38_3","z":0.05},{"sample":"cRBCcb11","lipid":"PE_38_3","z":0.4},{"sample":"cRBCpb14","lipid":"PE_38_3","z":-0.05},{"sample":"cRBCcb12","lipid":"PE_38_3","z":0.05},{"sample":"cRBCpb12","lipid":"PE_38_3","z":-0.35},{"sample":"cRBCpb13","lipid":"PE_38_3","z":0.05},
{"sample":"nRET2","lipid":"PE_38_4","z":1.8},{"sample":"nRET1","lipid":"PE_38_4","z":2.3},{"sample":"cRBCpb15","lipid":"PE_38_4","z":1.5},{"sample":"nRBC3","lipid":"PE_38_4","z":0.8},{"sample":"nRBC1","lipid":"PE_38_4","z":0.5},{"sample":"nRBC4","lipid":"PE_38_4","z":0.8},{"sample":"nRBC2","lipid":"PE_38_4","z":0.8},{"sample":"nRET5","lipid":"PE_38_4","z":1.3},{"sample":"nRET4","lipid":"PE_38_4","z":1.5},{"sample":"cRBCcb10","lipid":"PE_38_4","z":1.7},{"sample":"cRBCcb9","lipid":"PE_38_4","z":2.1},{"sample":"cRBCcb11","lipid":"PE_38_4","z":1.6},{"sample":"cRBCpb14","lipid":"PE_38_4","z":2.3},{"sample":"cRBCcb12","lipid":"PE_38_4","z":1.7},{"sample":"cRBCpb12","lipid":"PE_38_4","z":1.3},{"sample":"cRBCpb13","lipid":"PE_38_4","z":1.4},
{"sample":"nRET2","lipid":"PE_38_5","z":0.6},{"sample":"nRET1","lipid":"PE_38_5","z":0.9},{"sample":"cRBCpb15","lipid":"PE_38_5","z":-0.1},{"sample":"nRBC3","lipid":"PE_38_5","z":0.15},{"sample":"nRBC1","lipid":"PE_38_5","z":0.15},{"sample":"nRBC4","lipid":"PE_38_5","z":0.15},{"sample":"nRBC2","lipid":"PE_38_5","z":0.15},{"sample":"nRET5","lipid":"PE_38_5","z":0.5},{"sample":"nRET4","lipid":"PE_38_5","z":0.5},{"sample":"cRBCcb10","lipid":"PE_38_5","z":0.5},{"sample":"cRBCcb9","lipid":"PE_38_5","z":0.9},{"sample":"cRBCcb11","lipid":"PE_38_5","z":0.1},{"sample":"cRBCpb14","lipid":"PE_38_5","z":0.1},{"sample":"cRBCcb12","lipid":"PE_38_5","z":0.4},{"sample":"cRBCpb12","lipid":"PE_38_5","z":0.1},{"sample":"cRBCpb13","lipid":"PE_38_5","z":-0.05},
{"sample":"nRET2","lipid":"PE_38_6","z":0.15},{"sample":"nRET1","lipid":"PE_38_6","z":-0.1},{"sample":"cRBCpb15","lipid":"PE_38_6","z":-0.65},{"sample":"nRBC3","lipid":"PE_38_6","z":-0.4},{"sample":"nRBC1","lipid":"PE_38_6","z":-0.4},{"sample":"nRBC4","lipid":"PE_38_6","z":-0.4},{"sample":"nRBC2","lipid":"PE_38_6","z":-0.4},{"sample":"nRET5","lipid":"PE_38_6","z":-0.05},{"sample":"nRET4","lipid":"PE_38_6","z":0.15},{"sample":"cRBCcb10","lipid":"PE_38_6","z":-0.6},{"sample":"cRBCcb9","lipid":"PE_38_6","z":-0.6},{"sample":"cRBCcb11","lipid":"PE_38_6","z":-0.6},{"sample":"cRBCpb14","lipid":"PE_38_6","z":-0.6},{"sample":"cRBCcb12","lipid":"PE_38_6","z":-0.6},{"sample":"cRBCpb12","lipid":"PE_38_6","z":-0.6},{"sample":"cRBCpb13","lipid":"PE_38_6","z":-0.6},
{"sample":"nRET2","lipid":"PE_40_3","z":-0.7},{"sample":"nRET1","lipid":"PE_40_3","z":-0.7},{"sample":"cRBCpb15","lipid":"PE_40_3","z":-0.65},{"sample":"nRBC3","lipid":"PE_40_3","z":-0.8},{"sample":"nRBC1","lipid":"PE_40_3","z":-0.8},{"sample":"nRBC4","lipid":"PE_40_3","z":-0.65},{"sample":"nRBC2","lipid":"PE_40_3","z":-0.8},{"sample":"nRET5","lipid":"PE_40_3","z":-0.65},{"sample":"nRET4","lipid":"PE_40_3","z":-0.7},{"sample":"cRBCcb10","lipid":"PE_40_3","z":-0.65},{"sample":"cRBCcb9","lipid":"PE_40_3","z":-0.65},{"sample":"cRBCcb11","lipid":"PE_40_3","z":-0.65},{"sample":"cRBCpb14","lipid":"PE_40_3","z":-0.65},{"sample":"cRBCcb12","lipid":"PE_40_3","z":-0.65},{"sample":"cRBCpb12","lipid":"PE_40_3","z":-0.65},{"sample":"cRBCpb13","lipid":"PE_40_3","z":-0.65},
{"sample":"nRET2","lipid":"PE_40_4","z":-0.4},{"sample":"nRET1","lipid":"PE_40_4","z":-0.4},{"sample":"cRBCpb15","lipid":"PE_40_4","z":-0.65},{"sample":"nRBC3","lipid":"PE_40_4","z":-0.65},{"sample":"nRBC1","lipid":"PE_40_4","z":-0.8},{"sample":"nRBC4","lipid":"PE_40_4","z":-0.65},{"sample":"nRBC2","lipid":"PE_40_4","z":-0.65},{"sample":"nRET5","lipid":"PE_40_4","z":-0.4},{"sample":"nRET4","lipid":"PE_40_4","z":-0.4},{"sample":"cRBCcb10","lipid":"PE_40_4","z":-0.4},{"sample":"cRBCcb9","lipid":"PE_40_4","z":-0.05},{"sample":"cRBCcb11","lipid":"PE_40_4","z":-0.4},{"sample":"cRBCpb14","lipid":"PE_40_4","z":-0.4},{"sample":"cRBCcb12","lipid":"PE_40_4","z":-0.4},{"sample":"cRBCpb12","lipid":"PE_40_4","z":-0.6},{"sample":"cRBCpb13","lipid":"PE_40_4","z":-0.6},
{"sample":"nRET2","lipid":"PE_40_5","z":-0.45},{"sample":"nRET1","lipid":"PE_40_5","z":-0.45},{"sample":"cRBCpb15","lipid":"PE_40_5","z":-0.65},{"sample":"nRBC3","lipid":"PE_40_5","z":-0.65},{"sample":"nRBC1","lipid":"PE_40_5","z":-0.8},{"sample":"nRBC4","lipid":"PE_40_5","z":-0.65},{"sample":"nRBC2","lipid":"PE_40_5","z":-0.65},{"sample":"nRET5","lipid":"PE_40_5","z":-0.4},{"sample":"nRET4","lipid":"PE_40_5","z":-0.4},{"sample":"cRBCcb10","lipid":"PE_40_5","z":-0.6},{"sample":"cRBCcb9","lipid":"PE_40_5","z":-0.2},{"sample":"cRBCcb11","lipid":"PE_40_5","z":-0.6},{"sample":"cRBCpb14","lipid":"PE_40_5","z":-0.6},{"sample":"cRBCcb12","lipid":"PE_40_5","z":-0.6},{"sample":"cRBCpb12","lipid":"PE_40_5","z":-0.6},{"sample":"cRBCpb13","lipid":"PE_40_5","z":-0.6},
{"sample":"nRET2","lipid":"PE_40_6","z":-0.45},{"sample":"nRET1","lipid":"PE_40_6","z":-0.45},{"sample":"cRBCpb15","lipid":"PE_40_6","z":-0.65},{"sample":"nRBC3","lipid":"PE_40_6","z":-0.65},{"sample":"nRBC1","lipid":"PE_40_6","z":-0.65},{"sample":"nRBC4","lipid":"PE_40_6","z":-0.65},{"sample":"nRBC2","lipid":"PE_40_6","z":-0.65},{"sample":"nRET5","lipid":"PE_40_6","z":-0.4},{"sample":"nRET4","lipid":"PE_40_6","z":-0.4},{"sample":"cRBCcb10","lipid":"PE_40_6","z":-0.6},{"sample":"cRBCcb9","lipid":"PE_40_6","z":-0.6},{"sample":"cRBCcb11","lipid":"PE_40_6","z":-0.6},{"sample":"cRBCpb14","lipid":"PE_40_6","z":-0.6},{"sample":"cRBCcb12","lipid":"PE_40_6","z":-0.6},{"sample":"cRBCpb12","lipid":"PE_40_6","z":-0.6},{"sample":"cRBCpb13","lipid":"PE_40_6","z":-0.7},
{"sample":"nRET2","lipid":"PE_40_7","z":-0.45},{"sample":"nRET1","lipid":"PE_40_7","z":-0.65},{"sample":"cRBCpb15","lipid":"PE_40_7","z":-0.85},{"sample":"nRBC3","lipid":"PE_40_7","z":-0.65},{"sample":"nRBC1","lipid":"PE_40_7","z":-0.65},{"sample":"nRBC4","lipid":"PE_40_7","z":-0.65},{"sample":"nRBC2","lipid":"PE_40_7","z":-0.65},{"sample":"nRET5","lipid":"PE_40_7","z":-0.4},{"sample":"nRET4","lipid":"PE_40_7","z":-0.4},{"sample":"cRBCcb10","lipid":"PE_40_7","z":-0.6},{"sample":"cRBCcb9","lipid":"PE_40_7","z":-0.6},{"sample":"cRBCcb11","lipid":"PE_40_7","z":-0.6},{"sample":"cRBCpb14","lipid":"PE_40_7","z":-0.6},{"sample":"cRBCcb12","lipid":"PE_40_7","z":-0.6},{"sample":"cRBCpb12","lipid":"PE_40_7","z":-0.7},{"sample":"cRBCpb13","lipid":"PE_40_7","z":-0.7},
{"sample":"nRET2","lipid":"PI_36_4","z":-0.7},{"sample":"nRET1","lipid":"PI_36_4","z":-0.7},{"sample":"cRBCpb15","lipid":"PI_36_4","z":-0.85},{"sample":"nRBC3","lipid":"PI_36_4","z":-0.65},{"sample":"nRBC1","lipid":"PI_36_4","z":-0.85},{"sample":"nRBC4","lipid":"PI_36_4","z":-0.65},{"sample":"nRBC2","lipid":"PI_36_4","z":-0.65},{"sample":"nRET5","lipid":"PI_36_4","z":-0.7},{"sample":"nRET4","lipid":"PI_36_4","z":-0.7},{"sample":"cRBCcb10","lipid":"PI_36_4","z":-0.8},{"sample":"cRBCcb9","lipid":"PI_36_4","z":-0.8},{"sample":"cRBCcb11","lipid":"PI_36_4","z":-0.8},{"sample":"cRBCpb14","lipid":"PI_36_4","z":-0.6},{"sample":"cRBCcb12","lipid":"PI_36_4","z":-0.8},{"sample":"cRBCpb12","lipid":"PI_36_4","z":-0.8},{"sample":"cRBCpb13","lipid":"PI_36_4","z":-0.8},
{"sample":"nRET2","lipid":"PI_38_3","z":-0.7},{"sample":"nRET1","lipid":"PI_38_3","z":-0.7},{"sample":"cRBCpb15","lipid":"PI_38_3","z":-0.7},{"sample":"nRBC3","lipid":"PI_38_3","z":-0.85},{"sample":"nRBC1","lipid":"PI_38_3","z":-0.85},{"sample":"nRBC4","lipid":"PI_38_3","z":-0.65},{"sample":"nRBC2","lipid":"PI_38_3","z":-0.85},{"sample":"nRET5","lipid":"PI_38_3","z":-0.7},{"sample":"nRET4","lipid":"PI_38_3","z":-0.7},{"sample":"cRBCcb10","lipid":"PI_38_3","z":-0.4},{"sample":"cRBCcb9","lipid":"PI_38_3","z":-0.4},{"sample":"cRBCcb11","lipid":"PI_38_3","z":-0.4},{"sample":"cRBCpb14","lipid":"PI_38_3","z":-0.65},{"sample":"cRBCcb12","lipid":"PI_38_3","z":-0.35},{"sample":"cRBCpb12","lipid":"PI_38_3","z":-0.7},{"sample":"cRBCpb13","lipid":"PI_38_3","z":-0.7},
{"sample":"nRET2","lipid":"PI_38_4","z":-0.1},{"sample":"nRET1","lipid":"PI_38_4","z":-0.4},{"sample":"cRBCpb15","lipid":"PI_38_4","z":-0.05},{"sample":"nRBC3","lipid":"PI_38_4","z":-0.65},{"sample":"nRBC1","lipid":"PI_38_4","z":-0.65},{"sample":"nRBC4","lipid":"PI_38_4","z":-0.65},{"sample":"nRBC2","lipid":"PI_38_4","z":-0.65},{"sample":"nRET5","lipid":"PI_38_4","z":-0.35},{"sample":"nRET4","lipid":"PI_38_4","z":-0.05},{"sample":"cRBCcb10","lipid":"PI_38_4","z":-0.35},{"sample":"cRBCcb9","lipid":"PI_38_4","z":-0.35},{"sample":"cRBCcb11","lipid":"PI_38_4","z":-0.35},{"sample":"cRBCpb14","lipid":"PI_38_4","z":-0.05},{"sample":"cRBCcb12","lipid":"PI_38_4","z":-0.05},{"sample":"cRBCpb12","lipid":"PI_38_4","z":0.4},{"sample":"cRBCpb13","lipid":"PI_38_4","z":-0.05},
{"sample":"nRET2","lipid":"PI_38_5","z":-0.7},{"sample":"nRET1","lipid":"PI_38_5","z":-0.7},{"sample":"cRBCpb15","lipid":"PI_38_5","z":-0.85},{"sample":"nRBC3","lipid":"PI_38_5","z":-0.85},{"sample":"nRBC1","lipid":"PI_38_5","z":-0.85},{"sample":"nRBC4","lipid":"PI_38_5","z":-0.65},{"sample":"nRBC2","lipid":"PI_38_5","z":-0.85},{"sample":"nRET5","lipid":"PI_38_5","z":-0.65},{"sample":"nRET4","lipid":"PI_38_5","z":-0.65},{"sample":"cRBCcb10","lipid":"PI_38_5","z":-0.85},{"sample":"cRBCcb9","lipid":"PI_38_5","z":-0.85},{"sample":"cRBCcb11","lipid":"PI_38_5","z":-0.7},{"sample":"cRBCpb14","lipid":"PI_38_5","z":-0.7},{"sample":"cRBCcb12","lipid":"PI_38_5","z":-0.85},{"sample":"cRBCpb12","lipid":"PI_38_5","z":-0.65},{"sample":"cRBCpb13","lipid":"PI_38_5","z":-0.75},
{"sample":"nRET2","lipid":"PI_40_3","z":-0.7},{"sample":"nRET1","lipid":"PI_40_3","z":-0.85},{"sample":"cRBCpb15","lipid":"PI_40_3","z":-0.85},{"sample":"nRBC3","lipid":"PI_40_3","z":-0.85},{"sample":"nRBC1","lipid":"PI_40_3","z":-0.85},{"sample":"nRBC4","lipid":"PI_40_3","z":-0.65},{"sample":"nRBC2","lipid":"PI_40_3","z":-0.65},{"sample":"nRET5","lipid":"PI_40_3","z":-0.65},{"sample":"nRET4","lipid":"PI_40_3","z":-0.65},{"sample":"cRBCcb10","lipid":"PI_40_3","z":-0.85},{"sample":"cRBCcb9","lipid":"PI_40_3","z":-0.85},{"sample":"cRBCcb11","lipid":"PI_40_3","z":-0.7},{"sample":"cRBCpb14","lipid":"PI_40_3","z":-0.7},{"sample":"cRBCcb12","lipid":"PI_40_3","z":-0.85},{"sample":"cRBCpb12","lipid":"PI_40_3","z":-0.65},{"sample":"cRBCpb13","lipid":"PI_40_3","z":-0.75},
{"sample":"nRET2","lipid":"PI_40_4","z":-0.65},{"sample":"nRET1","lipid":"PI_40_4","z":-0.65},{"sample":"cRBCpb15","lipid":"PI_40_4","z":-0.85},{"sample":"nRBC3","lipid":"PI_40_4","z":-0.85},{"sample":"nRBC1","lipid":"PI_40_4","z":-0.85},{"sample":"nRBC4","lipid":"PI_40_4","z":-0.65},{"sample":"nRBC2","lipid":"PI_40_4","z":-0.85},{"sample":"nRET5","lipid":"PI_40_4","z":-0.65},{"sample":"nRET4","lipid":"PI_40_4","z":-0.65},{"sample":"cRBCcb10","lipid":"PI_40_4","z":-0.75},{"sample":"cRBCcb9","lipid":"PI_40_4","z":-0.75},{"sample":"cRBCcb11","lipid":"PI_40_4","z":-0.8},{"sample":"cRBCpb14","lipid":"PI_40_4","z":-0.6},{"sample":"cRBCcb12","lipid":"PI_40_4","z":-0.8},{"sample":"cRBCpb12","lipid":"PI_40_4","z":-0.8},{"sample":"cRBCpb13","lipid":"PI_40_4","z":-0.8},
{"sample":"nRET2","lipid":"PS_38_4","z":0.3},{"sample":"nRET1","lipid":"PS_38_4","z":1.1},{"sample":"cRBCpb15","lipid":"PS_38_4","z":1.8},{"sample":"nRBC3","lipid":"PS_38_4","z":1.7},{"sample":"nRBC1","lipid":"PS_38_4","z":2.2},{"sample":"nRBC4","lipid":"PS_38_4","z":1.2},{"sample":"nRBC2","lipid":"PS_38_4","z":1.4},{"sample":"nRET5","lipid":"PS_38_4","z":0.1},{"sample":"nRET4","lipid":"PS_38_4","z":-0.05},{"sample":"cRBCcb10","lipid":"PS_38_4","z":3.0},{"sample":"cRBCcb9","lipid":"PS_38_4","z":2.4},{"sample":"cRBCcb11","lipid":"PS_38_4","z":2.0},{"sample":"cRBCpb14","lipid":"PS_38_4","z":3.0},{"sample":"cRBCcb12","lipid":"PS_38_4","z":3.2},{"sample":"cRBCpb12","lipid":"PS_38_4","z":1.5},{"sample":"cRBCpb13","lipid":"PS_38_4","z":2.6},
{"sample":"nRET2","lipid":"PS_40_6","z":0.25},{"sample":"nRET1","lipid":"PS_40_6","z":0.9},{"sample":"cRBCpb15","lipid":"PS_40_6","z":-0.65},{"sample":"nRBC3","lipid":"PS_40_6","z":-0.35},{"sample":"nRBC1","lipid":"PS_40_6","z":-0.35},{"sample":"nRBC4","lipid":"PS_40_6","z":-0.35},{"sample":"nRBC2","lipid":"PS_40_6","z":-0.35},{"sample":"nRET5","lipid":"PS_40_6","z":-0.1},{"sample":"nRET4","lipid":"PS_40_6","z":0.1},{"sample":"cRBCcb10","lipid":"PS_40_6","z":-0.6},{"sample":"cRBCcb9","lipid":"PS_40_6","z":-0.6},{"sample":"cRBCcb11","lipid":"PS_40_6","z":-0.6},{"sample":"cRBCpb14","lipid":"PS_40_6","z":-0.6},{"sample":"cRBCcb12","lipid":"PS_40_6","z":-0.6},{"sample":"cRBCpb12","lipid":"PS_40_6","z":-0.6},{"sample":"cRBCpb13","lipid":"PS_40_6","z":-0.6},
{"sample":"nRET2","lipid":"LPC_16_0","z":-0.7},{"sample":"nRET1","lipid":"LPC_16_0","z":-0.85},{"sample":"cRBCpb15","lipid":"LPC_16_0","z":-0.3},{"sample":"nRBC3","lipid":"LPC_16_0","z":-0.6},{"sample":"nRBC1","lipid":"LPC_16_0","z":-0.6},{"sample":"nRBC4","lipid":"LPC_16_0","z":-0.6},{"sample":"nRBC2","lipid":"LPC_16_0","z":-0.6},{"sample":"nRET5","lipid":"LPC_16_0","z":-0.6},{"sample":"nRET4","lipid":"LPC_16_0","z":-0.65},{"sample":"cRBCcb10","lipid":"LPC_16_0","z":-0.6},{"sample":"cRBCcb9","lipid":"LPC_16_0","z":-0.6},{"sample":"cRBCcb11","lipid":"LPC_16_0","z":-0.6},{"sample":"cRBCpb14","lipid":"LPC_16_0","z":-0.6},{"sample":"cRBCcb12","lipid":"LPC_16_0","z":-0.6},{"sample":"cRBCpb12","lipid":"LPC_16_0","z":-0.6},{"sample":"cRBCpb13","lipid":"LPC_16_0","z":-0.05},
{"sample":"nRET2","lipid":"LPC_17_0","z":-0.7},{"sample":"nRET1","lipid":"LPC_17_0","z":-0.85},{"sample":"cRBCpb15","lipid":"LPC_17_0","z":-0.8},{"sample":"nRBC3","lipid":"LPC_17_0","z":-0.8},{"sample":"nRBC1","lipid":"LPC_17_0","z":-0.8},{"sample":"nRBC4","lipid":"LPC_17_0","z":-0.6},{"sample":"nRBC2","lipid":"LPC_17_0","z":-0.8},{"sample":"nRET5","lipid":"LPC_17_0","z":-0.65},{"sample":"nRET4","lipid":"LPC_17_0","z":-0.65},{"sample":"cRBCcb10","lipid":"LPC_17_0","z":-0.8},{"sample":"cRBCcb9","lipid":"LPC_17_0","z":-0.8},{"sample":"cRBCcb11","lipid":"LPC_17_0","z":-0.8},{"sample":"cRBCpb14","lipid":"LPC_17_0","z":-0.6},{"sample":"cRBCcb12","lipid":"LPC_17_0","z":-0.8},{"sample":"cRBCpb12","lipid":"LPC_17_0","z":-0.8},{"sample":"cRBCpb13","lipid":"LPC_17_0","z":-0.8},
{"sample":"nRET2","lipid":"LPC_18_0","z":-0.7},{"sample":"nRET1","lipid":"LPC_18_0","z":-0.85},{"sample":"cRBCpb15","lipid":"LPC_18_0","z":-0.3},{"sample":"nRBC3","lipid":"LPC_18_0","z":-0.3},{"sample":"nRBC1","lipid":"LPC_18_0","z":-0.3},{"sample":"nRBC4","lipid":"LPC_18_0","z":-0.3},{"sample":"nRBC2","lipid":"LPC_18_0","z":-0.6},{"sample":"nRET5","lipid":"LPC_18_0","z":-0.65},{"sample":"nRET4","lipid":"LPC_18_0","z":-0.65},{"sample":"cRBCcb10","lipid":"LPC_18_0","z":-0.6},{"sample":"cRBCcb9","lipid":"LPC_18_0","z":-0.6},{"sample":"cRBCcb11","lipid":"LPC_18_0","z":-0.6},{"sample":"cRBCpb14","lipid":"LPC_18_0","z":-0.6},{"sample":"cRBCcb12","lipid":"LPC_18_0","z":-0.6},{"sample":"cRBCpb12","lipid":"LPC_18_0","z":-0.6},{"sample":"cRBCpb13","lipid":"LPC_18_0","z":-0.35},
{"sample":"nRET2","lipid":"LPC_18_1","z":-0.7},{"sample":"nRET1","lipid":"LPC_18_1","z":-0.85},{"sample":"cRBCpb15","lipid":"LPC_18_1","z":-0.5},{"sample":"nRBC3","lipid":"LPC_18_1","z":-0.85},{"sample":"nRBC1","lipid":"LPC_18_1","z":-0.85},{"sample":"nRBC4","lipid":"LPC_18_1","z":-0.65},{"sample":"nRBC2","lipid":"LPC_18_1","z":-0.85},{"sample":"nRET5","lipid":"LPC_18_1","z":-0.65},{"sample":"nRET4","lipid":"LPC_18_1","z":-0.65},{"sample":"cRBCcb10","lipid":"LPC_18_1","z":-0.85},{"sample":"cRBCcb9","lipid":"LPC_18_1","z":-0.85},{"sample":"cRBCcb11","lipid":"LPC_18_1","z":-0.85},{"sample":"cRBCpb14","lipid":"LPC_18_1","z":-0.6},{"sample":"cRBCcb12","lipid":"LPC_18_1","z":-0.85},{"sample":"cRBCpb12","lipid":"LPC_18_1","z":-0.85},{"sample":"cRBCpb13","lipid":"LPC_18_1","z":-0.5},
{"sample":"nRET2","lipid":"LPC_20_4","z":-0.7},{"sample":"nRET1","lipid":"LPC_20_4","z":-0.85},{"sample":"cRBCpb15","lipid":"LPC_20_4","z":-0.85},{"sample":"nRBC3","lipid":"LPC_20_4","z":-0.85},{"sample":"nRBC1","lipid":"LPC_20_4","z":-0.85},{"sample":"nRBC4","lipid":"LPC_20_4","z":-0.65},{"sample":"nRBC2","lipid":"LPC_20_4","z":-0.85},{"sample":"nRET5","lipid":"LPC_20_4","z":-0.65},{"sample":"nRET4","lipid":"LPC_20_4","z":-0.65},{"sample":"cRBCcb10","lipid":"LPC_20_4","z":-0.85},{"sample":"cRBCcb9","lipid":"LPC_20_4","z":-0.85},{"sample":"cRBCcb11","lipid":"LPC_20_4","z":-0.85},{"sample":"cRBCpb14","lipid":"LPC_20_4","z":-0.6},{"sample":"cRBCcb12","lipid":"LPC_20_4","z":-0.85},{"sample":"cRBCpb12","lipid":"LPC_20_4","z":-0.85},{"sample":"cRBCpb13","lipid":"LPC_20_4","z":-0.8},
{"sample":"nRET2","lipid":"LPC_21_0","z":-0.7},{"sample":"nRET1","lipid":"LPC_21_0","z":-0.85},{"sample":"cRBCpb15","lipid":"LPC_21_0","z":-0.85},{"sample":"nRBC3","lipid":"LPC_21_0","z":-0.85},{"sample":"nRBC1","lipid":"LPC_21_0","z":-0.85},{"sample":"nRBC4","lipid":"LPC_21_0","z":-0.65},{"sample":"nRBC2","lipid":"LPC_21_0","z":-0.65},{"sample":"nRET5","lipid":"LPC_21_0","z":-0.65},{"sample":"nRET4","lipid":"LPC_21_0","z":-0.65},{"sample":"cRBCcb10","lipid":"LPC_21_0","z":-0.85},{"sample":"cRBCcb9","lipid":"LPC_21_0","z":-0.85},{"sample":"cRBCcb11","lipid":"LPC_21_0","z":-0.85},{"sample":"cRBCpb14","lipid":"LPC_21_0","z":-0.6},{"sample":"cRBCcb12","lipid":"LPC_21_0","z":-0.85},{"sample":"cRBCpb12","lipid":"LPC_21_0","z":-0.6},{"sample":"cRBCpb13","lipid":"LPC_21_0","z":-0.8},
{"sample":"nRET2","lipid":"LPC_22_0","z":-0.62},{"sample":"nRET1","lipid":"LPC_22_0","z":-0.62},{"sample":"cRBCpb15","lipid":"LPC_22_0","z":-0.62},{"sample":"nRBC3","lipid":"LPC_22_0","z":-0.62},{"sample":"nRBC1","lipid":"LPC_22_0","z":-0.62},{"sample":"nRBC4","lipid":"LPC_22_0","z":-0.62},{"sample":"nRBC2","lipid":"LPC_22_0","z":-0.62},{"sample":"nRET5","lipid":"LPC_22_0","z":-0.62},{"sample":"nRET4","lipid":"LPC_22_0","z":-0.62},{"sample":"cRBCcb10","lipid":"LPC_22_0","z":-0.85},{"sample":"cRBCcb9","lipid":"LPC_22_0","z":-0.85},{"sample":"cRBCcb11","lipid":"LPC_22_0","z":-0.6},{"sample":"cRBCpb14","lipid":"LPC_22_0","z":-0.6},{"sample":"cRBCcb12","lipid":"LPC_22_0","z":-0.85},{"sample":"cRBCpb12","lipid":"LPC_22_0","z":-0.6},{"sample":"cRBCpb13","lipid":"LPC_22_0","z":-0.8},
{"sample":"nRET2","lipid":"SM_14_0","z":-0.6},{"sample":"nRET1","lipid":"SM_14_0","z":-0.6},{"sample":"cRBCpb15","lipid":"SM_14_0","z":-0.6},{"sample":"nRBC3","lipid":"SM_14_0","z":-0.6},{"sample":"nRBC1","lipid":"SM_14_0","z":-0.6},{"sample":"nRBC4","lipid":"SM_14_0","z":-0.6},{"sample":"nRBC2","lipid":"SM_14_0","z":-0.6},{"sample":"nRET5","lipid":"SM_14_0","z":-0.6},{"sample":"nRET4","lipid":"SM_14_0","z":-0.6},{"sample":"cRBCcb10","lipid":"SM_14_0","z":-0.6},{"sample":"cRBCcb9","lipid":"SM_14_0","z":-0.6},{"sample":"cRBCcb11","lipid":"SM_14_0","z":-0.6},{"sample":"cRBCpb14","lipid":"SM_14_0","z":-0.6},{"sample":"cRBCcb12","lipid":"SM_14_0","z":-0.6},{"sample":"cRBCpb12","lipid":"SM_14_0","z":-0.6},{"sample":"cRBCpb13","lipid":"SM_14_0","z":-0.6},
{"sample":"nRET2","lipid":"SM_16_0","z":1.3},{"sample":"nRET1","lipid":"SM_16_0","z":1.2},{"sample":"cRBCpb15","lipid":"SM_16_0","z":2.2},{"sample":"nRBC3","lipid":"SM_16_0","z":1.6},{"sample":"nRBC1","lipid":"SM_16_0","z":1.9},{"sample":"nRBC4","lipid":"SM_16_0","z":1.4},{"sample":"nRBC2","lipid":"SM_16_0","z":1.6},{"sample":"nRET5","lipid":"SM_16_0","z":1.1},{"sample":"nRET4","lipid":"SM_16_0","z":1.2},{"sample":"cRBCcb10","lipid":"SM_16_0","z":1.2},{"sample":"cRBCcb9","lipid":"SM_16_0","z":1.0},{"sample":"cRBCcb11","lipid":"SM_16_0","z":1.3},{"sample":"cRBCpb14","lipid":"SM_16_0","z":1.6},{"sample":"cRBCcb12","lipid":"SM_16_0","z":1.3},{"sample":"cRBCpb12","lipid":"SM_16_0","z":2.2},{"sample":"cRBCpb13","lipid":"SM_16_0","z":1.6},
{"sample":"nRET2","lipid":"SM_16_1","z":-0.3},{"sample":"nRET1","lipid":"SM_16_1","z":-0.6},{"sample":"cRBCpb15","lipid":"SM_16_1","z":-0.6},{"sample":"nRBC3","lipid":"SM_16_1","z":-0.6},{"sample":"nRBC1","lipid":"SM_16_1","z":-0.6},{"sample":"nRBC4","lipid":"SM_16_1","z":-0.6},{"sample":"nRBC2","lipid":"SM_16_1","z":-0.6},{"sample":"nRET5","lipid":"SM_16_1","z":-0.35},{"sample":"nRET4","lipid":"SM_16_1","z":-0.35},{"sample":"cRBCcb10","lipid":"SM_16_1","z":-0.55},{"sample":"cRBCcb9","lipid":"SM_16_1","z":-0.55},{"sample":"cRBCcb11","lipid":"SM_16_1","z":-0.55},{"sample":"cRBCpb14","lipid":"SM_16_1","z":-0.55},{"sample":"cRBCcb12","lipid":"SM_16_1","z":-0.55},{"sample":"cRBCpb12","lipid":"SM_16_1","z":-0.55},{"sample":"cRBCpb13","lipid":"SM_16_1","z":-0.55},
{"sample":"nRET2","lipid":"SM_18_0","z":-0.3},{"sample":"nRET1","lipid":"SM_18_0","z":-0.3},{"sample":"cRBCpb15","lipid":"SM_18_0","z":0.12},{"sample":"nRBC3","lipid":"SM_18_0","z":-0.35},{"sample":"nRBC1","lipid":"SM_18_0","z":-0.05},{"sample":"nRBC4","lipid":"SM_18_0","z":-0.35},{"sample":"nRBC2","lipid":"SM_18_0","z":-0.05},{"sample":"nRET5","lipid":"SM_18_0","z":-0.6},{"sample":"nRET4","lipid":"SM_18_0","z":-0.6},{"sample":"cRBCcb10","lipid":"SM_18_0","z":0.25},{"sample":"cRBCcb9","lipid":"SM_18_0","z":0.08},{"sample":"cRBCcb11","lipid":"SM_18_0","z":0.08},{"sample":"cRBCpb14","lipid":"SM_18_0","z":0.08},{"sample":"cRBCcb12","lipid":"SM_18_0","z":0.2},{"sample":"cRBCpb12","lipid":"SM_18_0","z":0.05},{"sample":"cRBCpb13","lipid":"SM_18_0","z":0.05},
{"sample":"nRET2","lipid":"SM_20_0","z":-0.6},{"sample":"nRET1","lipid":"SM_20_0","z":-0.6},{"sample":"cRBCpb15","lipid":"SM_20_0","z":-0.35},{"sample":"nRBC3","lipid":"SM_20_0","z":-0.6},{"sample":"nRBC1","lipid":"SM_20_0","z":-0.6},{"sample":"nRBC4","lipid":"SM_20_0","z":-0.6},{"sample":"nRBC2","lipid":"SM_20_0","z":-0.6},{"sample":"nRET5","lipid":"SM_20_0","z":-0.6},{"sample":"nRET4","lipid":"SM_20_0","z":-0.6},{"sample":"cRBCcb10","lipid":"SM_20_0","z":-0.3},{"sample":"cRBCcb9","lipid":"SM_20_0","z":-0.55},{"sample":"cRBCcb11","lipid":"SM_20_0","z":-0.3},{"sample":"cRBCpb14","lipid":"SM_20_0","z":-0.3},{"sample":"cRBCcb12","lipid":"SM_20_0","z":-0.55},{"sample":"cRBCpb12","lipid":"SM_20_0","z":-0.3},{"sample":"cRBCpb13","lipid":"SM_20_0","z":-0.3},
{"sample":"nRET2","lipid":"SM_22_0","z":0.3},{"sample":"nRET1","lipid":"SM_22_0","z":0.5},{"sample":"cRBCpb15","lipid":"SM_22_0","z":1.9},{"sample":"nRBC3","lipid":"SM_22_0","z":0.8},{"sample":"nRBC1","lipid":"SM_22_0","z":0.9},{"sample":"nRBC4","lipid":"SM_22_0","z":0.35},{"sample":"nRBC2","lipid":"SM_22_0","z":0.3},{"sample":"nRET5","lipid":"SM_22_0","z":0.15},{"sample":"nRET4","lipid":"SM_22_0","z":0.7},{"sample":"cRBCcb10","lipid":"SM_22_0","z":1.0},{"sample":"cRBCcb9","lipid":"SM_22_0","z":0.8},{"sample":"cRBCcb11","lipid":"SM_22_0","z":1.4},{"sample":"cRBCpb14","lipid":"SM_22_0","z":1.5},{"sample":"cRBCcb12","lipid":"SM_22_0","z":1.1},{"sample":"cRBCpb12","lipid":"SM_22_0","z":2.0},{"sample":"cRBCpb13","lipid":"SM_22_0","z":1.4},
{"sample":"nRET2","lipid":"SM_22_1","z":-0.35},{"sample":"nRET1","lipid":"SM_22_1","z":-0.35},{"sample":"cRBCpb15","lipid":"SM_22_1","z":-0.35},{"sample":"nRBC3","lipid":"SM_22_1","z":-0.35},{"sample":"nRBC1","lipid":"SM_22_1","z":-0.35},{"sample":"nRBC4","lipid":"SM_22_1","z":-0.35},{"sample":"nRBC2","lipid":"SM_22_1","z":-0.35},{"sample":"nRET5","lipid":"SM_22_1","z":-0.6},{"sample":"nRET4","lipid":"SM_22_1","z":-0.35},{"sample":"cRBCcb10","lipid":"SM_22_1","z":-0.35},{"sample":"cRBCcb9","lipid":"SM_22_1","z":-0.35},{"sample":"cRBCcb11","lipid":"SM_22_1","z":-0.35},{"sample":"cRBCpb14","lipid":"SM_22_1","z":-0.35},{"sample":"cRBCcb12","lipid":"SM_22_1","z":-0.35},{"sample":"cRBCpb12","lipid":"SM_22_1","z":-0.35},{"sample":"cRBCpb13","lipid":"SM_22_1","z":-0.35},
{"sample":"nRET2","lipid":"SM_23_0","z":-0.55},{"sample":"nRET1","lipid":"SM_23_0","z":-0.55},{"sample":"cRBCpb15","lipid":"SM_23_0","z":-0.55},{"sample":"nRBC3","lipid":"SM_23_0","z":-0.55},{"sample":"nRBC1","lipid":"SM_23_0","z":-0.55},{"sample":"nRBC4","lipid":"SM_23_0","z":-0.55},{"sample":"nRBC2","lipid":"SM_23_0","z":-0.55},{"sample":"nRET5","lipid":"SM_23_0","z":-0.55},{"sample":"nRET4","lipid":"SM_23_0","z":-0.55},{"sample":"cRBCcb10","lipid":"SM_23_0","z":-0.55},{"sample":"cRBCcb9","lipid":"SM_23_0","z":-0.55},{"sample":"cRBCcb11","lipid":"SM_23_0","z":-0.55},{"sample":"cRBCpb14","lipid":"SM_23_0","z":-0.55},{"sample":"cRBCcb12","lipid":"SM_23_0","z":-0.55},{"sample":"cRBCpb12","lipid":"SM_23_0","z":-0.55},{"sample":"cRBCpb13","lipid":"SM_23_0","z":-0.55},
{"sample":"nRET2","lipid":"SM_24_0","z":2.7},{"sample":"nRET1","lipid":"SM_24_0","z":3.9},{"sample":"cRBCpb15","lipid":"SM_24_0","z":2.6},{"sample":"nRBC3","lipid":"SM_24_0","z":2.2},{"sample":"nRBC1","lipid":"SM_24_0","z":2.7},{"sample":"nRBC4","lipid":"SM_24_0","z":2.0},{"sample":"nRBC2","lipid":"SM_24_0","z":2.9},{"sample":"nRET5","lipid":"SM_24_0","z":2.2},{"sample":"nRET4","lipid":"SM_24_0","z":3.1},{"sample":"cRBCcb10","lipid":"SM_24_0","z":2.6},{"sample":"cRBCcb9","lipid":"SM_24_0","z":2.0},{"sample":"cRBCcb11","lipid":"SM_24_0","z":2.6},{"sample":"cRBCpb14","lipid":"SM_24_0","z":2.9},{"sample":"cRBCcb12","lipid":"SM_24_0","z":1.8},{"sample":"cRBCpb12","lipid":"SM_24_0","z":1.8},{"sample":"cRBCpb13","lipid":"SM_24_0","z":3.0},
{"sample":"nRET2","lipid":"SM_24_1","z":3.4},{"sample":"nRET1","lipid":"SM_24_1","z":3.3},{"sample":"cRBCpb15","lipid":"SM_24_1","z":3.1},{"sample":"nRBC3","lipid":"SM_24_1","z":3.9},{"sample":"nRBC1","lipid":"SM_24_1","z":3.5},{"sample":"nRBC4","lipid":"SM_24_1","z":3.7},{"sample":"nRBC2","lipid":"SM_24_1","z":3.2},{"sample":"nRET5","lipid":"SM_24_1","z":2.8},{"sample":"nRET4","lipid":"SM_24_1","z":3.5},{"sample":"cRBCcb10","lipid":"SM_24_1","z":2.9},{"sample":"cRBCcb9","lipid":"SM_24_1","z":2.5},{"sample":"cRBCcb11","lipid":"SM_24_1","z":3.6},{"sample":"cRBCpb14","lipid":"SM_24_1","z":3.5},{"sample":"cRBCcb12","lipid":"SM_24_1","z":3.5},{"sample":"cRBCpb12","lipid":"SM_24_1","z":3.9},{"sample":"cRBCpb13","lipid":"SM_24_1","z":3.5},
{"sample":"nRET2","lipid":"SM_24_2","z":0.15},{"sample":"nRET1","lipid":"SM_24_2","z":1.2},{"sample":"cRBCpb15","lipid":"SM_24_2","z":0.1},{"sample":"nRBC3","lipid":"SM_24_2","z":0.1},{"sample":"nRBC1","lipid":"SM_24_2","z":0.1},{"sample":"nRBC4","lipid":"SM_24_2","z":0.1},{"sample":"nRBC2","lipid":"SM_24_2","z":0.1},{"sample":"nRET5","lipid":"SM_24_2","z":-0.1},{"sample":"nRET4","lipid":"SM_24_2","z":-0.05},{"sample":"cRBCcb10","lipid":"SM_24_2","z":-0.1},{"sample":"cRBCcb9","lipid":"SM_24_2","z":-0.1},{"sample":"cRBCcb11","lipid":"SM_24_2","z":0.08},{"sample":"cRBCpb14","lipid":"SM_24_2","z":0.1},{"sample":"cRBCcb12","lipid":"SM_24_2","z":0.02},{"sample":"cRBCpb12","lipid":"SM_24_2","z":0.12},{"sample":"cRBCpb13","lipid":"SM_24_2","z":0.12},
{"sample":"nRET2","lipid":"SM_26_0","z":-0.35},{"sample":"nRET1","lipid":"SM_26_0","z":-0.05},{"sample":"cRBCpb15","lipid":"SM_26_0","z":-0.6},{"sample":"nRBC3","lipid":"SM_26_0","z":-0.6},{"sample":"nRBC1","lipid":"SM_26_0","z":-0.6},{"sample":"nRBC4","lipid":"SM_26_0","z":-0.6},{"sample":"nRBC2","lipid":"SM_26_0","z":-0.6},{"sample":"nRET5","lipid":"SM_26_0","z":-0.35},{"sample":"nRET4","lipid":"SM_26_0","z":-0.35},{"sample":"cRBCcb10","lipid":"SM_26_0","z":-0.6},{"sample":"cRBCcb9","lipid":"SM_26_0","z":-0.35},{"sample":"cRBCcb11","lipid":"SM_26_0","z":-0.35},{"sample":"cRBCpb14","lipid":"SM_26_0","z":-0.35},{"sample":"cRBCcb12","lipid":"SM_26_0","z":-0.6},{"sample":"cRBCpb12","lipid":"SM_26_0","z":-0.6},{"sample":"cRBCpb13","lipid":"SM_26_0","z":-0.6},
{"sample":"nRET2","lipid":"SM_26_1","z":-0.35},{"sample":"nRET1","lipid":"SM_26_1","z":-0.05},{"sample":"cRBCpb15","lipid":"SM_26_1","z":-0.6},{"sample":"nRBC3","lipid":"SM_26_1","z":-0.6},{"sample":"nRBC1","lipid":"SM_26_1","z":-0.6},{"sample":"nRBC4","lipid":"SM_26_1","z":-0.6},{"sample":"nRBC2","lipid":"SM_26_1","z":-0.6},{"sample":"nRET5","lipid":"SM_26_1","z":-0.35},{"sample":"nRET4","lipid":"SM_26_1","z":-0.35},{"sample":"cRBCcb10","lipid":"SM_26_1","z":-0.35},{"sample":"cRBCcb9","lipid":"SM_26_1","z":-0.35},{"sample":"cRBCcb11","lipid":"SM_26_1","z":-0.35},{"sample":"cRBCpb14","lipid":"SM_26_1","z":-0.35},{"sample":"cRBCcb12","lipid":"SM_26_1","z":-0.6},{"sample":"cRBCpb12","lipid":"SM_26_1","z":-0.6},{"sample":"cRBCpb13","lipid":"SM_26_1","z":-0.6},
{"sample":"nRET2","lipid":"SM_26_2","z":-0.6},{"sample":"nRET1","lipid":"SM_26_2","z":-0.05},{"sample":"cRBCpb15","lipid":"SM_26_2","z":-0.6},{"sample":"nRBC3","lipid":"SM_26_2","z":-0.6},{"sample":"nRBC1","lipid":"SM_26_2","z":-0.6},{"sample":"nRBC4","lipid":"SM_26_2","z":-0.6},{"sample":"nRBC2","lipid":"SM_26_2","z":-0.6},{"sample":"nRET5","lipid":"SM_26_2","z":-0.35},{"sample":"nRET4","lipid":"SM_26_2","z":-0.6},{"sample":"cRBCcb10","lipid":"SM_26_2","z":-0.6},{"sample":"cRBCcb9","lipid":"SM_26_2","z":-0.6},{"sample":"cRBCcb11","lipid":"SM_26_2","z":-0.6},{"sample":"cRBCpb14","lipid":"SM_26_2","z":-0.6},{"sample":"cRBCcb12","lipid":"SM_26_2","z":-0.6},{"sample":"cRBCpb12","lipid":"SM_26_2","z":-0.6},{"sample":"cRBCpb13","lipid":"SM_26_2","z":-0.6}
]},
"resolve":{"scale":{"x":"independent","y":"independent","color":"independent","stroke":"independent"},"axis":{"x":"independent","y":"independent"},"legend":{"color":"independent"}},
"layer":[
{"data":{"name":"ellipses"},"mark":{"type":"line","strokeWidth":1.3,"opacity":0.85,"interpolate":"cardinal-closed"},"encoding":{
"x":{"field":"pc1","type":"quantitative","scale":{"domain":[0,115.4],"range":[500,1654],"nice":false,"zero":false},"axis":{"orient":"bottom","offset":-1746,"ticks":false,"labels":false,"grid":false,"domainColor":"#555555","domainWidth":1.4,"title":"PC 1\u00a0\u00a067.5%","titleFontSize":50,"titleFontWeight":"normal","titleColor":"#000000","titleX":1084,"titleY":84,"titleBaseline":"alphabetic"}},
"y":{"field":"pc2","type":"quantitative","scale":{"domain":[0,72.9],"range":[816,87],"nice":false,"zero":false},"axis":{"orient":"left","offset":-500,"ticks":false,"labels":false,"grid":false,"domainColor":"#555555","domainWidth":1.4,"title":"PC 2\u00a0\u00a0\u00a014.21%","titleFontSize":51,"titleFontWeight":"normal","titleColor":"#000000","titleX":-62,"titleY":479,"titleAngle":270,"titleBaseline":"alphabetic"}},
"color":{"field":"group","type":"nominal","scale":{"domain":["nRBC","nRET","cRBCcb","cRBCpb"],"range":["#ff0000","#00ff00","#0000ff","#add8e6"]},"legend":null},
"order":{"field":"i","type":"quantitative"}}},
{"data":{"name":"points"},"mark":{"type":"circle","size":128,"opacity":1},"encoding":{
"x":{"field":"pc1","type":"quantitative","scale":{"domain":[0,115.4],"range":[500,1654],"nice":false,"zero":false},"axis":null},
"y":{"field":"pc2","type":"quantitative","scale":{"domain":[0,72.9],"range":[816,87],"nice":false,"zero":false},"axis":null},
"color":{"field":"group","type":"nominal","scale":{"domain":["nRBC","nRET","cRBCcb","cRBCpb"],"range":["#ff0000","#00ff00","#0000ff","#add8e6"]},"legend":{"orient":"none","legendX":542,"legendY":596,"title":null,"strokeColor":"#222222","fillColor":"#ffffff","padding":18,"labelFontSize":29,"labelColor":"#111111","labelOffset":20.5,"symbolOffset":-6,"symbolType":"circle","symbolSize":128,"symbolOpacity":1,"rowPadding":7.8}}}},
{"data":{"name":"groupLabels"},"mark":{"type":"text","fontSize":29,"align":"center","baseline":"middle"},"encoding":{
"x":{"field":"pc1","type":"quantitative","scale":{"domain":[0,115.4],"range":[500,1654],"nice":false,"zero":false},"axis":null},
"y":{"field":"pc2","type":"quantitative","scale":{"domain":[0,72.9],"range":[816,87],"nice":false,"zero":false},"axis":null},"text":{"field":"group"},
"color":{"field":"group","type":"nominal","scale":{"domain":["nRBC","nRET","cRBCcb","cRBCpb"],"range":["#ff0000","#00ff00","#0000ff","#add8e6"]},"legend":null}}},
{"data":{"values":[{"tag":"A","pc1":-49.1,"pc2":78.5}]},"mark":{"type":"text","fontSize":33,"fontWeight":"bold","align":"left","baseline":"alphabetic","color":"#000000"},"encoding":{
"x":{"field":"pc1","type":"quantitative","scale":{"domain":[0,115.4],"range":[500,1654],"nice":false,"zero":false},"axis":null},
"y":{"field":"pc2","type":"quantitative","scale":{"domain":[0,72.9],"range":[816,87],"nice":false,"zero":false},"axis":null},"text":{"field":"tag"}}},
{"data":{"values":[{"zmin":-5.55,"zmax":5.6,"b0":0,"b1":1}]},"mark":{"type":"rect","fill":{"gradient":"linear","x1":0,"x2":1,"y1":0,"y2":0,"stops":[{"offset":0,"color":"#104e8b"},{"offset":0.4978,"color":"#ffffff"},{"offset":1,"color":"#ff8c00"}]}},"encoding":{
"x":{"field":"zmin","type":"quantitative","scale":{"domain":[-5.55,5.6],"range":[54.7,270],"nice":false,"zero":false},"axis":{"orient":"bottom","offset":-1319,"zindex":1,"values":[-4,-2,0,2,4],"labelExpr":"datum.value==-2?'':(datum.value<0?'\u2212':'')+abs(datum.value)","labelFontSize":25,"labelColor":"#222222","labelPadding":14,"tickSize":16,"tickColor":"#222222","tickWidth":1.5,"domainColor":"#111111","domainWidth":2,"grid":false,"labelOverlap":false,"title":"Column Z-Score","titleFontSize":25,"titleFontWeight":"normal","titleColor":"#222222","titleX":162,"titleY":84,"titleBaseline":"middle"}},
"x2":{"field":"zmax"},
"y":{"field":"b0","type":"quantitative","scale":{"domain":[0,1],"range":[1243,1139],"nice":false,"zero":false},"axis":null},
"y2":{"field":"b1"}}},
{"data":{"values":[{"label":"Color Key","zv":0,"b":1.26}]},"mark":{"type":"text","fontSize":30,"fontWeight":"bold","align":"center","baseline":"middle","color":"#111111"},"encoding":{
"x":{"field":"zv","type":"quantitative","scale":{"domain":[-5.55,5.6],"range":[54.7,270],"nice":false,"zero":false},"axis":null},
"y":{"field":"b","type":"quantitative","scale":{"domain":[0,1],"range":[1243,1139],"nice":false,"zero":false},"axis":null},"text":{"field":"label"}}},
{"data":{"name":"dendro"},"mark":{"type":"rule","strokeWidth":1.9,"color":"#2b2b2b"},"encoding":{
"x":{"field":"p","type":"quantitative","scale":{"domain":[1,16],"range":[351,1902],"nice":false,"zero":false},"axis":null},"x2":{"field":"p2"},
"y":{"field":"h","type":"quantitative","scale":{"domain":[0,28.8],"range":[1380,1092],"nice":false,"zero":false},"axis":null},"y2":{"field":"h2"}}},
{"data":{"values":[{"tag":"B","p":-2.327,"h":33.6}]},"mark":{"type":"text","fontSize":33,"fontWeight":"bold","align":"left","baseline":"alphabetic","color":"#000000"},"encoding":{
"x":{"field":"p","type":"quantitative","scale":{"domain":[1,16],"range":[351,1902],"nice":false,"zero":false},"axis":null},
"y":{"field":"h","type":"quantitative","scale":{"domain":[0,28.8],"range":[1380,1092],"nice":false,"zero":false},"axis":null},"text":{"field":"tag"}}},
{"data":{"name":"strip"},"mark":{"type":"rect","strokeWidth":0.5},"encoding":{
"x":{"field":"sample","type":"nominal","sort":null,"scale":{"domain":["nRET2","nRET1","cRBCpb15","nRBC3","nRBC1","nRBC4","nRBC2","nRET5","nRET4","cRBCcb10","cRBCcb9","cRBCcb11","cRBCpb14","cRBCcb12","cRBCpb12","cRBCpb13"],"range":[297,1954],"paddingInner":0,"paddingOuter":0},"axis":null},
"y":{"field":"track","type":"nominal","scale":{"range":[1390,1410],"paddingInner":0,"paddingOuter":0},"axis":null},
"color":{"field":"group","type":"nominal","scale":{"domain":["nRBC","nRET","cRBCcb","cRBCpb"],"range":["#ff0000","#00ff00","#0000ff","#add8e6"]},"legend":null},
"stroke":{"field":"group","type":"nominal","scale":{"domain":["nRBC","nRET","cRBCcb","cRBCpb"],"range":["#ff0000","#00ff00","#0000ff","#add8e6"]},"legend":null}}},
{"data":{"name":"cells"},"mark":{"type":"rect","strokeWidth":0.4},"encoding":{
"x":{"field":"sample","type":"nominal","sort":null,"scale":{"domain":["nRET2","nRET1","cRBCpb15","nRBC3","nRBC1","nRBC4","nRBC2","nRET5","nRET4","cRBCcb10","cRBCcb9","cRBCcb11","cRBCpb14","cRBCcb12","cRBCpb12","cRBCpb13"],"range":[297,1954],"paddingInner":0,"paddingOuter":0},"axis":{"orient":"bottom","offset":-186,"title":null,"ticks":false,"domain":false,"labelAngle":270,"labelAlign":"right","labelBaseline":"alphabetic","labelFontSize":38,"labelColor":"#333333","labelPadding":0,"labelOffset":1,"labelLimit":0,"labelOverlap":false,"labelBound":false,"grid":false}},
"y":{"field":"lipid","type":"nominal","sort":null,"scale":{"domain":["PC_32_0","PC_32_1","PC_34_0","PC_34_1","PC_34_2","PC_36_1","PC_36_2","PC_36_3","PC_36_4","PC_38_3","PC_38_4","PC_38_5","PC_38_6","PE_22_0","PE_26_0","PE_34_1","PE_34_2","PE_36_1","PE_36_2","PE_36_3","PE_36_4","PE_38_3","PE_38_4","PE_38_5","PE_38_6","PE_40_3","PE_40_4","PE_40_5","PE_40_6","PE_40_7","PI_36_4","PI_38_3","PI_38_4","PI_38_5","PI_40_3","PI_40_4","PS_38_4","PS_40_6","LPC_16_0","LPC_17_0","LPC_18_0","LPC_18_1","LPC_20_4","LPC_21_0","LPC_22_0","SM_14_0","SM_16_0","SM_16_1","SM_18_0","SM_20_0","SM_22_0","SM_22_1","SM_23_0","SM_24_0","SM_24_1","SM_24_2","SM_26_0","SM_26_1","SM_26_2"],"range":[1422,2348.6],"paddingInner":0,"paddingOuter":0},"axis":{"orient":"right","offset":-129,"ticks":false,"domain":false,"labelFontSize":13.6,"labelColor":"#3a3a3a","labelPadding":0,"labelOverlap":false,"labelBound":false,"labelLimit":0,"grid":false,"title":"Phospholipids","titleFontSize":50,"titleFontWeight":"normal","titleColor":"#000000","titleAngle":270,"titleBaseline":"alphabetic","titleX":114,"titleY":1857.5}},
"color":{"field":"z","type":"quantitative","scale":{"domain":[-5.55,0,5.6],"range":["#104e8b","#ffffff","#ff8c00"],"interpolate":"rgb"},"legend":null},
"stroke":{"field":"z","type":"quantitative","scale":{"domain":[-5.55,0,5.6],"range":["#104e8b","#ffffff","#ff8c00"],"interpolate":"rgb"},"legend":null}}}
]}
